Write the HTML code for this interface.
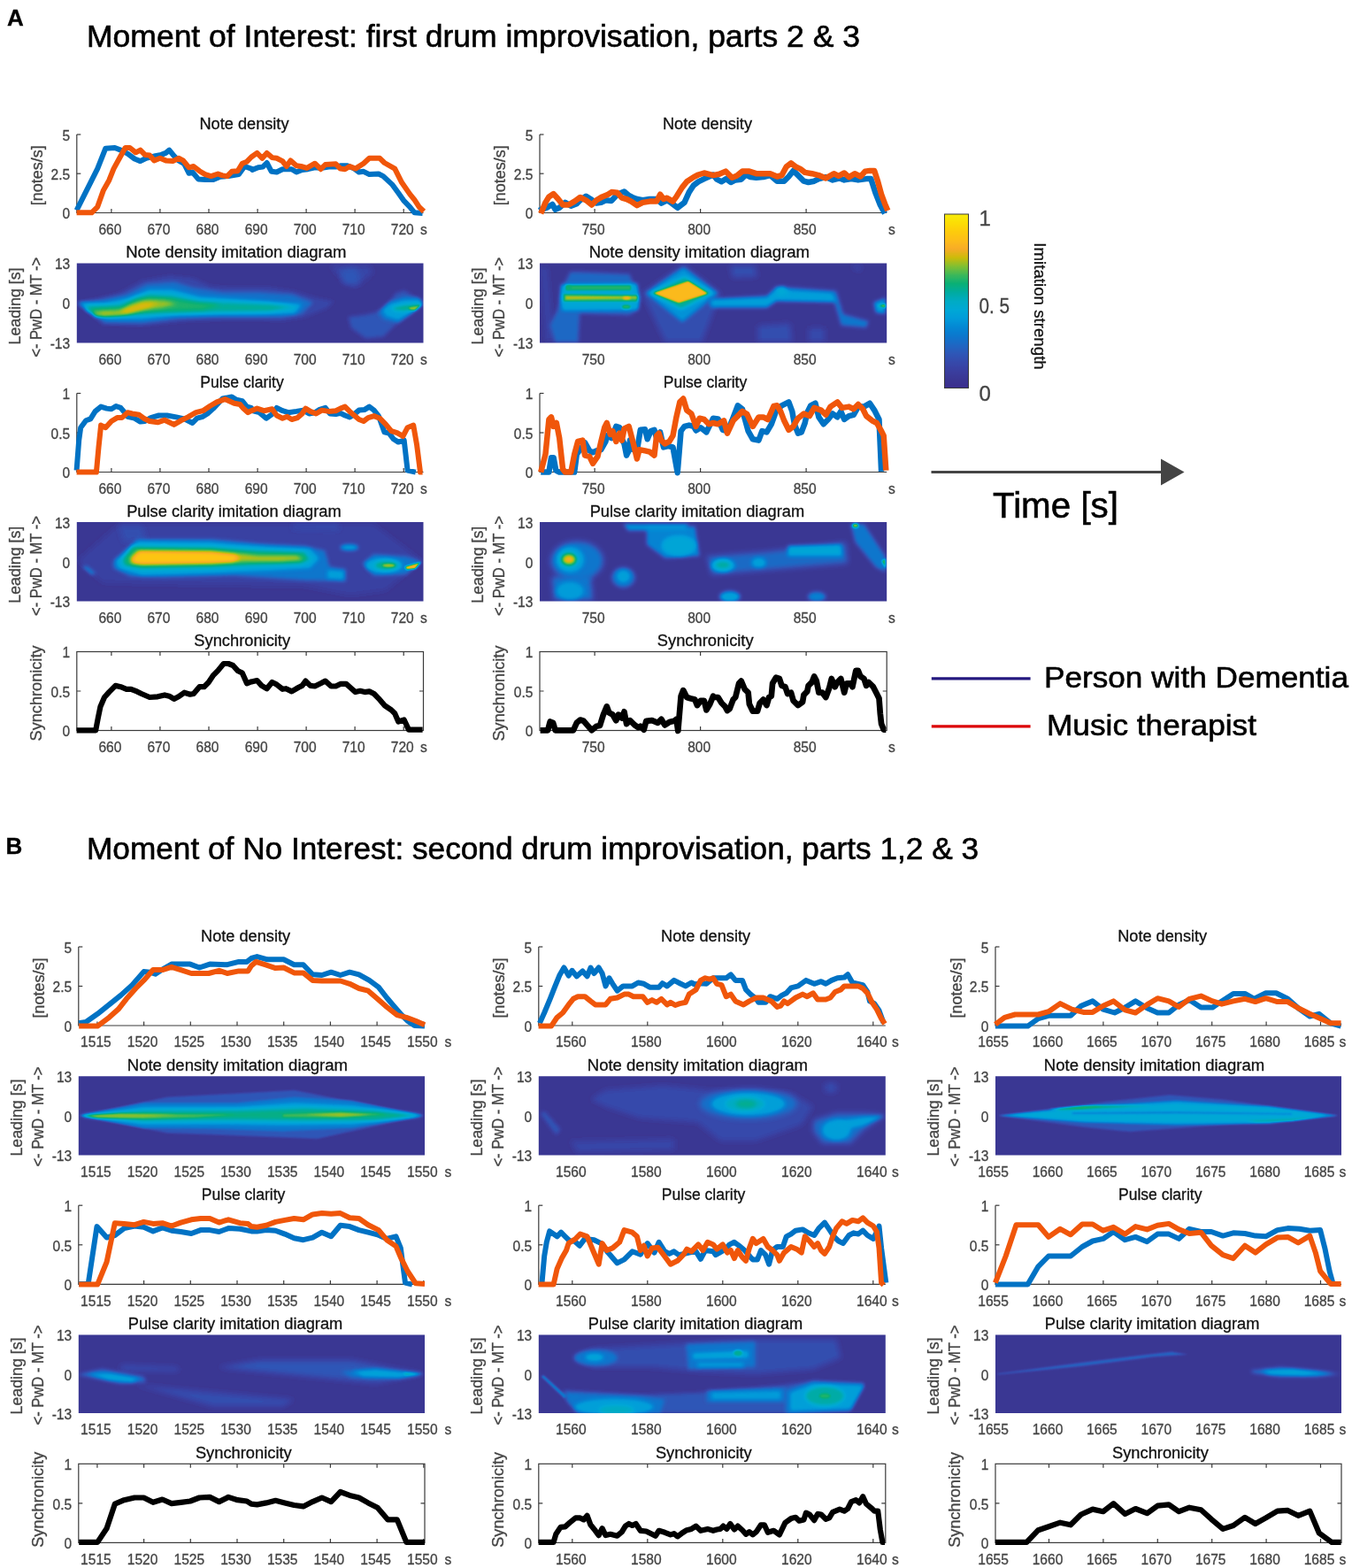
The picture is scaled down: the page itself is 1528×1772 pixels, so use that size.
<!DOCTYPE html>
<html><head><meta charset="utf-8"><title>Figure</title>
<style>html,body{margin:0;padding:0;background:#fff;}svg{display:block;}</style></head>
<body><svg width="1528" height="1772" viewBox="0 0 1528 1772" font-family='"Liberation Sans", Arial, sans-serif'><defs><filter id="pm" x="0" y="0" width="1" height="1" color-interpolation-filters="sRGB"><feComponentTransfer><feFuncR type="table" tableValues="0.2353 0.2314 0.2275 0.2118 0.1804 0.1176 0.0471 0.0157 0.0078 0.0000 0.0000 0.0000 0.0392 0.2353 0.5098 0.8039 0.9725 0.9922 0.9961 0.9882 0.9725"/><feFuncG type="table" tableValues="0.1804 0.2157 0.2471 0.2902 0.3451 0.4078 0.4706 0.5333 0.6118 0.6588 0.6745 0.6745 0.6902 0.7216 0.7529 0.7373 0.6745 0.7451 0.8000 0.8706 0.9255"/><feFuncB type="table" tableValues="0.5569 0.5765 0.6275 0.6745 0.7216 0.7686 0.8078 0.8314 0.8549 0.8392 0.7686 0.6275 0.4627 0.3529 0.1961 0.0392 0.1569 0.0980 0.0471 0.0196 0.0392"/></feComponentTransfer></filter><filter id="b1" x="-50%" y="-50%" width="200%" height="200%"><feGaussianBlur stdDeviation="1"/></filter><filter id="b2" x="-50%" y="-50%" width="200%" height="200%"><feGaussianBlur stdDeviation="2"/></filter><filter id="b3" x="-50%" y="-50%" width="200%" height="200%"><feGaussianBlur stdDeviation="3"/></filter><filter id="b4" x="-50%" y="-50%" width="200%" height="200%"><feGaussianBlur stdDeviation="4"/></filter><filter id="b5" x="-50%" y="-50%" width="200%" height="200%"><feGaussianBlur stdDeviation="5"/></filter><filter id="b6" x="-50%" y="-50%" width="200%" height="200%"><feGaussianBlur stdDeviation="6"/></filter><filter id="b8" x="-50%" y="-50%" width="200%" height="200%"><feGaussianBlur stdDeviation="8"/></filter><clipPath id="hc1"><rect x="86.8" y="297.5" width="391.7" height="90.0"/></clipPath><clipPath id="hc2"><rect x="610.0" y="297.5" width="392.2" height="90.0"/></clipPath><clipPath id="hc3"><rect x="86.8" y="590.0" width="391.7" height="89.5"/></clipPath><clipPath id="hc4"><rect x="610.0" y="590.0" width="392.2" height="89.5"/></clipPath><clipPath id="hc5"><rect x="88.8" y="1216.3" width="391.2" height="89.2"/></clipPath><clipPath id="hc6"><rect x="608.8" y="1216.3" width="392.0" height="89.2"/></clipPath><clipPath id="hc7"><rect x="1125.0" y="1216.3" width="391.0" height="89.2"/></clipPath><clipPath id="hc8"><rect x="88.8" y="1508.6" width="391.2" height="88.4"/></clipPath><clipPath id="hc9"><rect x="608.8" y="1508.6" width="392.0" height="88.4"/></clipPath><clipPath id="hc10"><rect x="1125.0" y="1508.6" width="391.0" height="88.4"/></clipPath><linearGradient id="gg" x1="0" y1="1" x2="0" y2="0"><stop offset="0" stop-color="#000"/><stop offset="1" stop-color="#fff"/></linearGradient></defs><text x="8.0" y="29.0" font-size="26" text-anchor="start" fill="#000" stroke="#000" stroke-width="0.3" font-weight="bold">A</text>
<text x="98.0" y="53.3" font-size="35" text-anchor="start" fill="#000" stroke="#000" stroke-width="0.6" textLength="874.0" lengthAdjust="spacingAndGlyphs">Moment of Interest: first drum improvisation, parts 2 &amp; 3</text>
<text x="6.5" y="964.5" font-size="26" text-anchor="start" fill="#000" stroke="#000" stroke-width="0.3" font-weight="bold">B</text>
<text x="98.0" y="970.8" font-size="35" text-anchor="start" fill="#000" stroke="#000" stroke-width="0.6" textLength="1008.0" lengthAdjust="spacingAndGlyphs">Moment of No Interest: second drum improvisation, parts 1,2 &amp; 3</text>
<text x="276.0" y="145.6" font-size="18" text-anchor="middle" fill="#111" stroke="#111" stroke-width="0.3" textLength="101.0" lengthAdjust="spacingAndGlyphs">Note density</text>
<path d="M86.8 152.0V240.5H478.5" fill="none" stroke="#3a3a3a" stroke-width="1.2"/>
<path d="M125.9 240.5v-4.5" stroke="#3a3a3a" stroke-width="1.2"/>
<path d="M180.9 240.5v-4.5" stroke="#3a3a3a" stroke-width="1.2"/>
<path d="M236.0 240.5v-4.5" stroke="#3a3a3a" stroke-width="1.2"/>
<path d="M291.1 240.5v-4.5" stroke="#3a3a3a" stroke-width="1.2"/>
<path d="M346.1 240.5v-4.5" stroke="#3a3a3a" stroke-width="1.2"/>
<path d="M401.1 240.5v-4.5" stroke="#3a3a3a" stroke-width="1.2"/>
<path d="M456.2 240.5v-4.5" stroke="#3a3a3a" stroke-width="1.2"/>
<path d="M86.8 152.0h4.5" stroke="#3a3a3a" stroke-width="1.2"/>
<path d="M86.8 196.2h4.5" stroke="#3a3a3a" stroke-width="1.2"/>
<text x="79.2" y="158.7" font-size="16.2" text-anchor="end" fill="#444" textLength="8.6" lengthAdjust="spacingAndGlyphs" stroke="#444" stroke-width="0.3">5</text>
<text x="79.2" y="202.9" font-size="16.2" text-anchor="end" fill="#444" textLength="21.6" lengthAdjust="spacingAndGlyphs" stroke="#444" stroke-width="0.3">2.5</text>
<text x="79.2" y="247.2" font-size="16.2" text-anchor="end" fill="#444" textLength="8.6" lengthAdjust="spacingAndGlyphs" stroke="#444" stroke-width="0.3">0</text>
<text x="124.4" y="264.9" font-size="16.2" text-anchor="middle" fill="#444" textLength="25.9" lengthAdjust="spacingAndGlyphs" stroke="#444" stroke-width="0.3">660</text>
<text x="179.4" y="264.9" font-size="16.2" text-anchor="middle" fill="#444" textLength="25.9" lengthAdjust="spacingAndGlyphs" stroke="#444" stroke-width="0.3">670</text>
<text x="234.5" y="264.9" font-size="16.2" text-anchor="middle" fill="#444" textLength="25.9" lengthAdjust="spacingAndGlyphs" stroke="#444" stroke-width="0.3">680</text>
<text x="289.6" y="264.9" font-size="16.2" text-anchor="middle" fill="#444" textLength="25.9" lengthAdjust="spacingAndGlyphs" stroke="#444" stroke-width="0.3">690</text>
<text x="344.6" y="264.9" font-size="16.2" text-anchor="middle" fill="#444" textLength="25.9" lengthAdjust="spacingAndGlyphs" stroke="#444" stroke-width="0.3">700</text>
<text x="399.6" y="264.9" font-size="16.2" text-anchor="middle" fill="#444" textLength="25.9" lengthAdjust="spacingAndGlyphs" stroke="#444" stroke-width="0.3">710</text>
<text x="454.7" y="264.9" font-size="16.2" text-anchor="middle" fill="#444" textLength="25.9" lengthAdjust="spacingAndGlyphs" stroke="#444" stroke-width="0.3">720</text>
<text x="479.0" y="264.9" font-size="16.2" text-anchor="middle" fill="#444" textLength="7.8" lengthAdjust="spacingAndGlyphs" stroke="#444" stroke-width="0.3">s</text>
<text x="48.3" y="198.2" font-size="18" text-anchor="middle" fill="#444" stroke="#444" stroke-width="0.3" textLength="68.0" lengthAdjust="spacingAndGlyphs" transform="rotate(-90 48.3 198.2)">[notes/s]</text>
<text x="266.8" y="291.1" font-size="18" text-anchor="middle" fill="#111" stroke="#111" stroke-width="0.3" textLength="249.3" lengthAdjust="spacingAndGlyphs">Note density imitation diagram</text>
<text x="79.2" y="304.2" font-size="16.2" text-anchor="end" fill="#444" textLength="17.3" lengthAdjust="spacingAndGlyphs" stroke="#444" stroke-width="0.3">13</text>
<text x="79.2" y="349.2" font-size="16.2" text-anchor="end" fill="#444" textLength="8.6" lengthAdjust="spacingAndGlyphs" stroke="#444" stroke-width="0.3">0</text>
<text x="79.2" y="394.2" font-size="16.2" text-anchor="end" fill="#444" textLength="22.5" lengthAdjust="spacingAndGlyphs" stroke="#444" stroke-width="0.3">-13</text>
<text x="124.4" y="411.9" font-size="16.2" text-anchor="middle" fill="#444" textLength="25.9" lengthAdjust="spacingAndGlyphs" stroke="#444" stroke-width="0.3">660</text>
<text x="179.4" y="411.9" font-size="16.2" text-anchor="middle" fill="#444" textLength="25.9" lengthAdjust="spacingAndGlyphs" stroke="#444" stroke-width="0.3">670</text>
<text x="234.5" y="411.9" font-size="16.2" text-anchor="middle" fill="#444" textLength="25.9" lengthAdjust="spacingAndGlyphs" stroke="#444" stroke-width="0.3">680</text>
<text x="289.6" y="411.9" font-size="16.2" text-anchor="middle" fill="#444" textLength="25.9" lengthAdjust="spacingAndGlyphs" stroke="#444" stroke-width="0.3">690</text>
<text x="344.6" y="411.9" font-size="16.2" text-anchor="middle" fill="#444" textLength="25.9" lengthAdjust="spacingAndGlyphs" stroke="#444" stroke-width="0.3">700</text>
<text x="399.6" y="411.9" font-size="16.2" text-anchor="middle" fill="#444" textLength="25.9" lengthAdjust="spacingAndGlyphs" stroke="#444" stroke-width="0.3">710</text>
<text x="454.7" y="411.9" font-size="16.2" text-anchor="middle" fill="#444" textLength="25.9" lengthAdjust="spacingAndGlyphs" stroke="#444" stroke-width="0.3">720</text>
<text x="479.0" y="411.9" font-size="16.2" text-anchor="middle" fill="#444" textLength="7.8" lengthAdjust="spacingAndGlyphs" stroke="#444" stroke-width="0.3">s</text>
<text x="22.8" y="346.0" font-size="18" text-anchor="middle" fill="#444" stroke="#444" stroke-width="0.3" textLength="87.0" lengthAdjust="spacingAndGlyphs" transform="rotate(-90 22.8 346.0)">Leading [s]</text>
<text x="46.8" y="347.3" font-size="18" text-anchor="middle" fill="#444" stroke="#444" stroke-width="0.3" textLength="113.0" lengthAdjust="spacingAndGlyphs" transform="rotate(-90 46.8 347.3)">&lt;- PwD - MT -&gt;</text>
<text x="273.5" y="438.1" font-size="18" text-anchor="middle" fill="#111" stroke="#111" stroke-width="0.3" textLength="94.5" lengthAdjust="spacingAndGlyphs">Pulse clarity</text>
<path d="M86.8 444.5V533.5H478.5" fill="none" stroke="#3a3a3a" stroke-width="1.2"/>
<path d="M125.9 533.5v-4.5" stroke="#3a3a3a" stroke-width="1.2"/>
<path d="M180.9 533.5v-4.5" stroke="#3a3a3a" stroke-width="1.2"/>
<path d="M236.0 533.5v-4.5" stroke="#3a3a3a" stroke-width="1.2"/>
<path d="M291.1 533.5v-4.5" stroke="#3a3a3a" stroke-width="1.2"/>
<path d="M346.1 533.5v-4.5" stroke="#3a3a3a" stroke-width="1.2"/>
<path d="M401.1 533.5v-4.5" stroke="#3a3a3a" stroke-width="1.2"/>
<path d="M456.2 533.5v-4.5" stroke="#3a3a3a" stroke-width="1.2"/>
<path d="M86.8 444.5h4.5" stroke="#3a3a3a" stroke-width="1.2"/>
<path d="M86.8 489.0h4.5" stroke="#3a3a3a" stroke-width="1.2"/>
<text x="79.2" y="451.2" font-size="16.2" text-anchor="end" fill="#444" textLength="8.6" lengthAdjust="spacingAndGlyphs" stroke="#444" stroke-width="0.3">1</text>
<text x="79.2" y="495.7" font-size="16.2" text-anchor="end" fill="#444" textLength="21.6" lengthAdjust="spacingAndGlyphs" stroke="#444" stroke-width="0.3">0.5</text>
<text x="79.2" y="540.2" font-size="16.2" text-anchor="end" fill="#444" textLength="8.6" lengthAdjust="spacingAndGlyphs" stroke="#444" stroke-width="0.3">0</text>
<text x="124.4" y="557.9" font-size="16.2" text-anchor="middle" fill="#444" textLength="25.9" lengthAdjust="spacingAndGlyphs" stroke="#444" stroke-width="0.3">660</text>
<text x="179.4" y="557.9" font-size="16.2" text-anchor="middle" fill="#444" textLength="25.9" lengthAdjust="spacingAndGlyphs" stroke="#444" stroke-width="0.3">670</text>
<text x="234.5" y="557.9" font-size="16.2" text-anchor="middle" fill="#444" textLength="25.9" lengthAdjust="spacingAndGlyphs" stroke="#444" stroke-width="0.3">680</text>
<text x="289.6" y="557.9" font-size="16.2" text-anchor="middle" fill="#444" textLength="25.9" lengthAdjust="spacingAndGlyphs" stroke="#444" stroke-width="0.3">690</text>
<text x="344.6" y="557.9" font-size="16.2" text-anchor="middle" fill="#444" textLength="25.9" lengthAdjust="spacingAndGlyphs" stroke="#444" stroke-width="0.3">700</text>
<text x="399.6" y="557.9" font-size="16.2" text-anchor="middle" fill="#444" textLength="25.9" lengthAdjust="spacingAndGlyphs" stroke="#444" stroke-width="0.3">710</text>
<text x="454.7" y="557.9" font-size="16.2" text-anchor="middle" fill="#444" textLength="25.9" lengthAdjust="spacingAndGlyphs" stroke="#444" stroke-width="0.3">720</text>
<text x="479.0" y="557.9" font-size="16.2" text-anchor="middle" fill="#444" textLength="7.8" lengthAdjust="spacingAndGlyphs" stroke="#444" stroke-width="0.3">s</text>
<text x="264.4" y="583.6" font-size="18" text-anchor="middle" fill="#111" stroke="#111" stroke-width="0.3" textLength="242.5" lengthAdjust="spacingAndGlyphs">Pulse clarity imitation diagram</text>
<text x="79.2" y="596.7" font-size="16.2" text-anchor="end" fill="#444" textLength="17.3" lengthAdjust="spacingAndGlyphs" stroke="#444" stroke-width="0.3">13</text>
<text x="79.2" y="641.5" font-size="16.2" text-anchor="end" fill="#444" textLength="8.6" lengthAdjust="spacingAndGlyphs" stroke="#444" stroke-width="0.3">0</text>
<text x="79.2" y="686.2" font-size="16.2" text-anchor="end" fill="#444" textLength="22.5" lengthAdjust="spacingAndGlyphs" stroke="#444" stroke-width="0.3">-13</text>
<text x="124.4" y="703.9" font-size="16.2" text-anchor="middle" fill="#444" textLength="25.9" lengthAdjust="spacingAndGlyphs" stroke="#444" stroke-width="0.3">660</text>
<text x="179.4" y="703.9" font-size="16.2" text-anchor="middle" fill="#444" textLength="25.9" lengthAdjust="spacingAndGlyphs" stroke="#444" stroke-width="0.3">670</text>
<text x="234.5" y="703.9" font-size="16.2" text-anchor="middle" fill="#444" textLength="25.9" lengthAdjust="spacingAndGlyphs" stroke="#444" stroke-width="0.3">680</text>
<text x="289.6" y="703.9" font-size="16.2" text-anchor="middle" fill="#444" textLength="25.9" lengthAdjust="spacingAndGlyphs" stroke="#444" stroke-width="0.3">690</text>
<text x="344.6" y="703.9" font-size="16.2" text-anchor="middle" fill="#444" textLength="25.9" lengthAdjust="spacingAndGlyphs" stroke="#444" stroke-width="0.3">700</text>
<text x="399.6" y="703.9" font-size="16.2" text-anchor="middle" fill="#444" textLength="25.9" lengthAdjust="spacingAndGlyphs" stroke="#444" stroke-width="0.3">710</text>
<text x="454.7" y="703.9" font-size="16.2" text-anchor="middle" fill="#444" textLength="25.9" lengthAdjust="spacingAndGlyphs" stroke="#444" stroke-width="0.3">720</text>
<text x="479.0" y="703.9" font-size="16.2" text-anchor="middle" fill="#444" textLength="7.8" lengthAdjust="spacingAndGlyphs" stroke="#444" stroke-width="0.3">s</text>
<text x="22.8" y="638.2" font-size="18" text-anchor="middle" fill="#444" stroke="#444" stroke-width="0.3" textLength="87.0" lengthAdjust="spacingAndGlyphs" transform="rotate(-90 22.8 638.2)">Leading [s]</text>
<text x="46.8" y="639.5" font-size="18" text-anchor="middle" fill="#444" stroke="#444" stroke-width="0.3" textLength="113.0" lengthAdjust="spacingAndGlyphs" transform="rotate(-90 46.8 639.5)">&lt;- PwD - MT -&gt;</text>
<text x="273.7" y="730.1" font-size="18" text-anchor="middle" fill="#111" stroke="#111" stroke-width="0.3" textLength="108.8" lengthAdjust="spacingAndGlyphs">Synchronicity</text>
<rect x="86.8" y="736.5" width="391.7" height="89.0" fill="none" stroke="#3a3a3a" stroke-width="1.2"/>
<path d="M125.9 825.5v-4.5M125.9 736.5v4.5" stroke="#3a3a3a" stroke-width="1.2"/>
<path d="M180.9 825.5v-4.5M180.9 736.5v4.5" stroke="#3a3a3a" stroke-width="1.2"/>
<path d="M236.0 825.5v-4.5M236.0 736.5v4.5" stroke="#3a3a3a" stroke-width="1.2"/>
<path d="M291.1 825.5v-4.5M291.1 736.5v4.5" stroke="#3a3a3a" stroke-width="1.2"/>
<path d="M346.1 825.5v-4.5M346.1 736.5v4.5" stroke="#3a3a3a" stroke-width="1.2"/>
<path d="M401.1 825.5v-4.5M401.1 736.5v4.5" stroke="#3a3a3a" stroke-width="1.2"/>
<path d="M456.2 825.5v-4.5M456.2 736.5v4.5" stroke="#3a3a3a" stroke-width="1.2"/>
<path d="M86.8 781.0h4.5M478.5 781.0h-4.5" stroke="#3a3a3a" stroke-width="1.2"/>
<text x="79.2" y="743.2" font-size="16.2" text-anchor="end" fill="#444" textLength="8.6" lengthAdjust="spacingAndGlyphs" stroke="#444" stroke-width="0.3">1</text>
<text x="79.2" y="787.7" font-size="16.2" text-anchor="end" fill="#444" textLength="21.6" lengthAdjust="spacingAndGlyphs" stroke="#444" stroke-width="0.3">0.5</text>
<text x="79.2" y="832.2" font-size="16.2" text-anchor="end" fill="#444" textLength="8.6" lengthAdjust="spacingAndGlyphs" stroke="#444" stroke-width="0.3">0</text>
<text x="124.4" y="849.9" font-size="16.2" text-anchor="middle" fill="#444" textLength="25.9" lengthAdjust="spacingAndGlyphs" stroke="#444" stroke-width="0.3">660</text>
<text x="179.4" y="849.9" font-size="16.2" text-anchor="middle" fill="#444" textLength="25.9" lengthAdjust="spacingAndGlyphs" stroke="#444" stroke-width="0.3">670</text>
<text x="234.5" y="849.9" font-size="16.2" text-anchor="middle" fill="#444" textLength="25.9" lengthAdjust="spacingAndGlyphs" stroke="#444" stroke-width="0.3">680</text>
<text x="289.6" y="849.9" font-size="16.2" text-anchor="middle" fill="#444" textLength="25.9" lengthAdjust="spacingAndGlyphs" stroke="#444" stroke-width="0.3">690</text>
<text x="344.6" y="849.9" font-size="16.2" text-anchor="middle" fill="#444" textLength="25.9" lengthAdjust="spacingAndGlyphs" stroke="#444" stroke-width="0.3">700</text>
<text x="399.6" y="849.9" font-size="16.2" text-anchor="middle" fill="#444" textLength="25.9" lengthAdjust="spacingAndGlyphs" stroke="#444" stroke-width="0.3">710</text>
<text x="454.7" y="849.9" font-size="16.2" text-anchor="middle" fill="#444" textLength="25.9" lengthAdjust="spacingAndGlyphs" stroke="#444" stroke-width="0.3">720</text>
<text x="479.0" y="849.9" font-size="16.2" text-anchor="middle" fill="#444" textLength="7.8" lengthAdjust="spacingAndGlyphs" stroke="#444" stroke-width="0.3">s</text>
<text x="46.8" y="783.5" font-size="18" text-anchor="middle" fill="#444" stroke="#444" stroke-width="0.3" textLength="108.0" lengthAdjust="spacingAndGlyphs" transform="rotate(-90 46.8 783.5)">Synchronicity</text>
<text x="799.5" y="145.6" font-size="18" text-anchor="middle" fill="#111" stroke="#111" stroke-width="0.3" textLength="101.0" lengthAdjust="spacingAndGlyphs">Note density</text>
<path d="M610.0 152.0V240.5H1002.2" fill="none" stroke="#3a3a3a" stroke-width="1.2"/>
<path d="M672.1 240.5v-4.5" stroke="#3a3a3a" stroke-width="1.2"/>
<path d="M791.6 240.5v-4.5" stroke="#3a3a3a" stroke-width="1.2"/>
<path d="M911.1 240.5v-4.5" stroke="#3a3a3a" stroke-width="1.2"/>
<path d="M610.0 152.0h4.5" stroke="#3a3a3a" stroke-width="1.2"/>
<path d="M610.0 196.2h4.5" stroke="#3a3a3a" stroke-width="1.2"/>
<text x="602.4" y="158.7" font-size="16.2" text-anchor="end" fill="#444" textLength="8.6" lengthAdjust="spacingAndGlyphs" stroke="#444" stroke-width="0.3">5</text>
<text x="602.4" y="202.9" font-size="16.2" text-anchor="end" fill="#444" textLength="21.6" lengthAdjust="spacingAndGlyphs" stroke="#444" stroke-width="0.3">2.5</text>
<text x="602.4" y="247.2" font-size="16.2" text-anchor="end" fill="#444" textLength="8.6" lengthAdjust="spacingAndGlyphs" stroke="#444" stroke-width="0.3">0</text>
<text x="670.6" y="264.9" font-size="16.2" text-anchor="middle" fill="#444" textLength="25.9" lengthAdjust="spacingAndGlyphs" stroke="#444" stroke-width="0.3">750</text>
<text x="790.1" y="264.9" font-size="16.2" text-anchor="middle" fill="#444" textLength="25.9" lengthAdjust="spacingAndGlyphs" stroke="#444" stroke-width="0.3">800</text>
<text x="909.6" y="264.9" font-size="16.2" text-anchor="middle" fill="#444" textLength="25.9" lengthAdjust="spacingAndGlyphs" stroke="#444" stroke-width="0.3">850</text>
<text x="1008.0" y="264.9" font-size="16.2" text-anchor="middle" fill="#444" textLength="7.8" lengthAdjust="spacingAndGlyphs" stroke="#444" stroke-width="0.3">s</text>
<text x="571.5" y="198.2" font-size="18" text-anchor="middle" fill="#444" stroke="#444" stroke-width="0.3" textLength="68.0" lengthAdjust="spacingAndGlyphs" transform="rotate(-90 571.5 198.2)">[notes/s]</text>
<text x="790.3" y="291.1" font-size="18" text-anchor="middle" fill="#111" stroke="#111" stroke-width="0.3" textLength="249.3" lengthAdjust="spacingAndGlyphs">Note density imitation diagram</text>
<text x="602.4" y="304.2" font-size="16.2" text-anchor="end" fill="#444" textLength="17.3" lengthAdjust="spacingAndGlyphs" stroke="#444" stroke-width="0.3">13</text>
<text x="602.4" y="349.2" font-size="16.2" text-anchor="end" fill="#444" textLength="8.6" lengthAdjust="spacingAndGlyphs" stroke="#444" stroke-width="0.3">0</text>
<text x="602.4" y="394.2" font-size="16.2" text-anchor="end" fill="#444" textLength="22.5" lengthAdjust="spacingAndGlyphs" stroke="#444" stroke-width="0.3">-13</text>
<text x="670.6" y="411.9" font-size="16.2" text-anchor="middle" fill="#444" textLength="25.9" lengthAdjust="spacingAndGlyphs" stroke="#444" stroke-width="0.3">750</text>
<text x="790.1" y="411.9" font-size="16.2" text-anchor="middle" fill="#444" textLength="25.9" lengthAdjust="spacingAndGlyphs" stroke="#444" stroke-width="0.3">800</text>
<text x="909.6" y="411.9" font-size="16.2" text-anchor="middle" fill="#444" textLength="25.9" lengthAdjust="spacingAndGlyphs" stroke="#444" stroke-width="0.3">850</text>
<text x="1008.0" y="411.9" font-size="16.2" text-anchor="middle" fill="#444" textLength="7.8" lengthAdjust="spacingAndGlyphs" stroke="#444" stroke-width="0.3">s</text>
<text x="546.0" y="346.0" font-size="18" text-anchor="middle" fill="#444" stroke="#444" stroke-width="0.3" textLength="87.0" lengthAdjust="spacingAndGlyphs" transform="rotate(-90 546.0 346.0)">Leading [s]</text>
<text x="570.0" y="347.3" font-size="18" text-anchor="middle" fill="#444" stroke="#444" stroke-width="0.3" textLength="113.0" lengthAdjust="spacingAndGlyphs" transform="rotate(-90 570.0 347.3)">&lt;- PwD - MT -&gt;</text>
<text x="797.0" y="438.1" font-size="18" text-anchor="middle" fill="#111" stroke="#111" stroke-width="0.3" textLength="94.5" lengthAdjust="spacingAndGlyphs">Pulse clarity</text>
<path d="M610.0 444.5V533.5H1002.2" fill="none" stroke="#3a3a3a" stroke-width="1.2"/>
<path d="M672.1 533.5v-4.5" stroke="#3a3a3a" stroke-width="1.2"/>
<path d="M791.6 533.5v-4.5" stroke="#3a3a3a" stroke-width="1.2"/>
<path d="M911.1 533.5v-4.5" stroke="#3a3a3a" stroke-width="1.2"/>
<path d="M610.0 444.5h4.5" stroke="#3a3a3a" stroke-width="1.2"/>
<path d="M610.0 489.0h4.5" stroke="#3a3a3a" stroke-width="1.2"/>
<text x="602.4" y="451.2" font-size="16.2" text-anchor="end" fill="#444" textLength="8.6" lengthAdjust="spacingAndGlyphs" stroke="#444" stroke-width="0.3">1</text>
<text x="602.4" y="495.7" font-size="16.2" text-anchor="end" fill="#444" textLength="21.6" lengthAdjust="spacingAndGlyphs" stroke="#444" stroke-width="0.3">0.5</text>
<text x="602.4" y="540.2" font-size="16.2" text-anchor="end" fill="#444" textLength="8.6" lengthAdjust="spacingAndGlyphs" stroke="#444" stroke-width="0.3">0</text>
<text x="670.6" y="557.9" font-size="16.2" text-anchor="middle" fill="#444" textLength="25.9" lengthAdjust="spacingAndGlyphs" stroke="#444" stroke-width="0.3">750</text>
<text x="790.1" y="557.9" font-size="16.2" text-anchor="middle" fill="#444" textLength="25.9" lengthAdjust="spacingAndGlyphs" stroke="#444" stroke-width="0.3">800</text>
<text x="909.6" y="557.9" font-size="16.2" text-anchor="middle" fill="#444" textLength="25.9" lengthAdjust="spacingAndGlyphs" stroke="#444" stroke-width="0.3">850</text>
<text x="1008.0" y="557.9" font-size="16.2" text-anchor="middle" fill="#444" textLength="7.8" lengthAdjust="spacingAndGlyphs" stroke="#444" stroke-width="0.3">s</text>
<text x="787.9" y="583.6" font-size="18" text-anchor="middle" fill="#111" stroke="#111" stroke-width="0.3" textLength="242.5" lengthAdjust="spacingAndGlyphs">Pulse clarity imitation diagram</text>
<text x="602.4" y="596.7" font-size="16.2" text-anchor="end" fill="#444" textLength="17.3" lengthAdjust="spacingAndGlyphs" stroke="#444" stroke-width="0.3">13</text>
<text x="602.4" y="641.5" font-size="16.2" text-anchor="end" fill="#444" textLength="8.6" lengthAdjust="spacingAndGlyphs" stroke="#444" stroke-width="0.3">0</text>
<text x="602.4" y="686.2" font-size="16.2" text-anchor="end" fill="#444" textLength="22.5" lengthAdjust="spacingAndGlyphs" stroke="#444" stroke-width="0.3">-13</text>
<text x="670.6" y="703.9" font-size="16.2" text-anchor="middle" fill="#444" textLength="25.9" lengthAdjust="spacingAndGlyphs" stroke="#444" stroke-width="0.3">750</text>
<text x="790.1" y="703.9" font-size="16.2" text-anchor="middle" fill="#444" textLength="25.9" lengthAdjust="spacingAndGlyphs" stroke="#444" stroke-width="0.3">800</text>
<text x="909.6" y="703.9" font-size="16.2" text-anchor="middle" fill="#444" textLength="25.9" lengthAdjust="spacingAndGlyphs" stroke="#444" stroke-width="0.3">850</text>
<text x="1008.0" y="703.9" font-size="16.2" text-anchor="middle" fill="#444" textLength="7.8" lengthAdjust="spacingAndGlyphs" stroke="#444" stroke-width="0.3">s</text>
<text x="546.0" y="638.2" font-size="18" text-anchor="middle" fill="#444" stroke="#444" stroke-width="0.3" textLength="87.0" lengthAdjust="spacingAndGlyphs" transform="rotate(-90 546.0 638.2)">Leading [s]</text>
<text x="570.0" y="639.5" font-size="18" text-anchor="middle" fill="#444" stroke="#444" stroke-width="0.3" textLength="113.0" lengthAdjust="spacingAndGlyphs" transform="rotate(-90 570.0 639.5)">&lt;- PwD - MT -&gt;</text>
<text x="797.2" y="730.1" font-size="18" text-anchor="middle" fill="#111" stroke="#111" stroke-width="0.3" textLength="108.8" lengthAdjust="spacingAndGlyphs">Synchronicity</text>
<rect x="610.0" y="736.5" width="392.2" height="89.0" fill="none" stroke="#3a3a3a" stroke-width="1.2"/>
<path d="M672.1 825.5v-4.5M672.1 736.5v4.5" stroke="#3a3a3a" stroke-width="1.2"/>
<path d="M791.6 825.5v-4.5M791.6 736.5v4.5" stroke="#3a3a3a" stroke-width="1.2"/>
<path d="M911.1 825.5v-4.5M911.1 736.5v4.5" stroke="#3a3a3a" stroke-width="1.2"/>
<path d="M610.0 781.0h4.5M1002.2 781.0h-4.5" stroke="#3a3a3a" stroke-width="1.2"/>
<text x="602.4" y="743.2" font-size="16.2" text-anchor="end" fill="#444" textLength="8.6" lengthAdjust="spacingAndGlyphs" stroke="#444" stroke-width="0.3">1</text>
<text x="602.4" y="787.7" font-size="16.2" text-anchor="end" fill="#444" textLength="21.6" lengthAdjust="spacingAndGlyphs" stroke="#444" stroke-width="0.3">0.5</text>
<text x="602.4" y="832.2" font-size="16.2" text-anchor="end" fill="#444" textLength="8.6" lengthAdjust="spacingAndGlyphs" stroke="#444" stroke-width="0.3">0</text>
<text x="670.6" y="849.9" font-size="16.2" text-anchor="middle" fill="#444" textLength="25.9" lengthAdjust="spacingAndGlyphs" stroke="#444" stroke-width="0.3">750</text>
<text x="790.1" y="849.9" font-size="16.2" text-anchor="middle" fill="#444" textLength="25.9" lengthAdjust="spacingAndGlyphs" stroke="#444" stroke-width="0.3">800</text>
<text x="909.6" y="849.9" font-size="16.2" text-anchor="middle" fill="#444" textLength="25.9" lengthAdjust="spacingAndGlyphs" stroke="#444" stroke-width="0.3">850</text>
<text x="1008.0" y="849.9" font-size="16.2" text-anchor="middle" fill="#444" textLength="7.8" lengthAdjust="spacingAndGlyphs" stroke="#444" stroke-width="0.3">s</text>
<text x="570.0" y="783.5" font-size="18" text-anchor="middle" fill="#444" stroke="#444" stroke-width="0.3" textLength="108.0" lengthAdjust="spacingAndGlyphs" transform="rotate(-90 570.0 783.5)">Synchronicity</text>
<text x="277.6" y="1063.6" font-size="18" text-anchor="middle" fill="#111" stroke="#111" stroke-width="0.3" textLength="101.0" lengthAdjust="spacingAndGlyphs">Note density</text>
<path d="M88.8 1070.0V1159.0H480.0" fill="none" stroke="#3a3a3a" stroke-width="1.2"/>
<path d="M109.9 1159.0v-4.5" stroke="#3a3a3a" stroke-width="1.2"/>
<path d="M162.6 1159.0v-4.5" stroke="#3a3a3a" stroke-width="1.2"/>
<path d="M215.3 1159.0v-4.5" stroke="#3a3a3a" stroke-width="1.2"/>
<path d="M268.0 1159.0v-4.5" stroke="#3a3a3a" stroke-width="1.2"/>
<path d="M320.7 1159.0v-4.5" stroke="#3a3a3a" stroke-width="1.2"/>
<path d="M373.4 1159.0v-4.5" stroke="#3a3a3a" stroke-width="1.2"/>
<path d="M426.1 1159.0v-4.5" stroke="#3a3a3a" stroke-width="1.2"/>
<path d="M478.8 1159.0v-4.5" stroke="#3a3a3a" stroke-width="1.2"/>
<path d="M88.8 1070.0h4.5" stroke="#3a3a3a" stroke-width="1.2"/>
<path d="M88.8 1114.5h4.5" stroke="#3a3a3a" stroke-width="1.2"/>
<text x="81.2" y="1076.7" font-size="16.2" text-anchor="end" fill="#444" textLength="8.6" lengthAdjust="spacingAndGlyphs" stroke="#444" stroke-width="0.3">5</text>
<text x="81.2" y="1121.2" font-size="16.2" text-anchor="end" fill="#444" textLength="21.6" lengthAdjust="spacingAndGlyphs" stroke="#444" stroke-width="0.3">2.5</text>
<text x="81.2" y="1165.7" font-size="16.2" text-anchor="end" fill="#444" textLength="8.6" lengthAdjust="spacingAndGlyphs" stroke="#444" stroke-width="0.3">0</text>
<text x="108.4" y="1183.4" font-size="16.2" text-anchor="middle" fill="#444" textLength="34.6" lengthAdjust="spacingAndGlyphs" stroke="#444" stroke-width="0.3">1515</text>
<text x="161.1" y="1183.4" font-size="16.2" text-anchor="middle" fill="#444" textLength="34.6" lengthAdjust="spacingAndGlyphs" stroke="#444" stroke-width="0.3">1520</text>
<text x="213.8" y="1183.4" font-size="16.2" text-anchor="middle" fill="#444" textLength="34.6" lengthAdjust="spacingAndGlyphs" stroke="#444" stroke-width="0.3">1525</text>
<text x="266.5" y="1183.4" font-size="16.2" text-anchor="middle" fill="#444" textLength="34.6" lengthAdjust="spacingAndGlyphs" stroke="#444" stroke-width="0.3">1530</text>
<text x="319.2" y="1183.4" font-size="16.2" text-anchor="middle" fill="#444" textLength="34.6" lengthAdjust="spacingAndGlyphs" stroke="#444" stroke-width="0.3">1535</text>
<text x="371.9" y="1183.4" font-size="16.2" text-anchor="middle" fill="#444" textLength="34.6" lengthAdjust="spacingAndGlyphs" stroke="#444" stroke-width="0.3">1540</text>
<text x="424.6" y="1183.4" font-size="16.2" text-anchor="middle" fill="#444" textLength="34.6" lengthAdjust="spacingAndGlyphs" stroke="#444" stroke-width="0.3">1545</text>
<text x="477.3" y="1183.4" font-size="16.2" text-anchor="middle" fill="#444" textLength="34.6" lengthAdjust="spacingAndGlyphs" stroke="#444" stroke-width="0.3">1550</text>
<text x="506.5" y="1183.4" font-size="16.2" text-anchor="middle" fill="#444" textLength="7.8" lengthAdjust="spacingAndGlyphs" stroke="#444" stroke-width="0.3">s</text>
<text x="50.3" y="1116.5" font-size="18" text-anchor="middle" fill="#444" stroke="#444" stroke-width="0.3" textLength="68.0" lengthAdjust="spacingAndGlyphs" transform="rotate(-90 50.3 1116.5)">[notes/s]</text>
<text x="268.4" y="1209.9" font-size="18" text-anchor="middle" fill="#111" stroke="#111" stroke-width="0.3" textLength="249.3" lengthAdjust="spacingAndGlyphs">Note density imitation diagram</text>
<text x="81.2" y="1223.0" font-size="16.2" text-anchor="end" fill="#444" textLength="17.3" lengthAdjust="spacingAndGlyphs" stroke="#444" stroke-width="0.3">13</text>
<text x="81.2" y="1267.6" font-size="16.2" text-anchor="end" fill="#444" textLength="8.6" lengthAdjust="spacingAndGlyphs" stroke="#444" stroke-width="0.3">0</text>
<text x="81.2" y="1312.2" font-size="16.2" text-anchor="end" fill="#444" textLength="22.5" lengthAdjust="spacingAndGlyphs" stroke="#444" stroke-width="0.3">-13</text>
<text x="108.4" y="1329.9" font-size="16.2" text-anchor="middle" fill="#444" textLength="34.6" lengthAdjust="spacingAndGlyphs" stroke="#444" stroke-width="0.3">1515</text>
<text x="161.1" y="1329.9" font-size="16.2" text-anchor="middle" fill="#444" textLength="34.6" lengthAdjust="spacingAndGlyphs" stroke="#444" stroke-width="0.3">1520</text>
<text x="213.8" y="1329.9" font-size="16.2" text-anchor="middle" fill="#444" textLength="34.6" lengthAdjust="spacingAndGlyphs" stroke="#444" stroke-width="0.3">1525</text>
<text x="266.5" y="1329.9" font-size="16.2" text-anchor="middle" fill="#444" textLength="34.6" lengthAdjust="spacingAndGlyphs" stroke="#444" stroke-width="0.3">1530</text>
<text x="319.2" y="1329.9" font-size="16.2" text-anchor="middle" fill="#444" textLength="34.6" lengthAdjust="spacingAndGlyphs" stroke="#444" stroke-width="0.3">1535</text>
<text x="371.9" y="1329.9" font-size="16.2" text-anchor="middle" fill="#444" textLength="34.6" lengthAdjust="spacingAndGlyphs" stroke="#444" stroke-width="0.3">1540</text>
<text x="424.6" y="1329.9" font-size="16.2" text-anchor="middle" fill="#444" textLength="34.6" lengthAdjust="spacingAndGlyphs" stroke="#444" stroke-width="0.3">1545</text>
<text x="477.3" y="1329.9" font-size="16.2" text-anchor="middle" fill="#444" textLength="34.6" lengthAdjust="spacingAndGlyphs" stroke="#444" stroke-width="0.3">1550</text>
<text x="506.5" y="1329.9" font-size="16.2" text-anchor="middle" fill="#444" textLength="7.8" lengthAdjust="spacingAndGlyphs" stroke="#444" stroke-width="0.3">s</text>
<text x="24.8" y="1263.1" font-size="18" text-anchor="middle" fill="#444" stroke="#444" stroke-width="0.3" textLength="87.0" lengthAdjust="spacingAndGlyphs" transform="rotate(-90 24.8 1263.1)">Leading [s]</text>
<text x="48.8" y="1262.1" font-size="18" text-anchor="middle" fill="#444" stroke="#444" stroke-width="0.3" textLength="113.0" lengthAdjust="spacingAndGlyphs" transform="rotate(-90 48.8 1262.1)">&lt;- PwD - MT -&gt;</text>
<text x="275.1" y="1355.8" font-size="18" text-anchor="middle" fill="#111" stroke="#111" stroke-width="0.3" textLength="94.5" lengthAdjust="spacingAndGlyphs">Pulse clarity</text>
<path d="M88.8 1362.2V1451.4H480.0" fill="none" stroke="#3a3a3a" stroke-width="1.2"/>
<path d="M109.9 1451.4v-4.5" stroke="#3a3a3a" stroke-width="1.2"/>
<path d="M162.6 1451.4v-4.5" stroke="#3a3a3a" stroke-width="1.2"/>
<path d="M215.3 1451.4v-4.5" stroke="#3a3a3a" stroke-width="1.2"/>
<path d="M268.0 1451.4v-4.5" stroke="#3a3a3a" stroke-width="1.2"/>
<path d="M320.7 1451.4v-4.5" stroke="#3a3a3a" stroke-width="1.2"/>
<path d="M373.4 1451.4v-4.5" stroke="#3a3a3a" stroke-width="1.2"/>
<path d="M426.1 1451.4v-4.5" stroke="#3a3a3a" stroke-width="1.2"/>
<path d="M478.8 1451.4v-4.5" stroke="#3a3a3a" stroke-width="1.2"/>
<path d="M88.8 1362.2h4.5" stroke="#3a3a3a" stroke-width="1.2"/>
<path d="M88.8 1406.8h4.5" stroke="#3a3a3a" stroke-width="1.2"/>
<text x="81.2" y="1368.9" font-size="16.2" text-anchor="end" fill="#444" textLength="8.6" lengthAdjust="spacingAndGlyphs" stroke="#444" stroke-width="0.3">1</text>
<text x="81.2" y="1413.5" font-size="16.2" text-anchor="end" fill="#444" textLength="21.6" lengthAdjust="spacingAndGlyphs" stroke="#444" stroke-width="0.3">0.5</text>
<text x="81.2" y="1458.1" font-size="16.2" text-anchor="end" fill="#444" textLength="8.6" lengthAdjust="spacingAndGlyphs" stroke="#444" stroke-width="0.3">0</text>
<text x="108.4" y="1475.8" font-size="16.2" text-anchor="middle" fill="#444" textLength="34.6" lengthAdjust="spacingAndGlyphs" stroke="#444" stroke-width="0.3">1515</text>
<text x="161.1" y="1475.8" font-size="16.2" text-anchor="middle" fill="#444" textLength="34.6" lengthAdjust="spacingAndGlyphs" stroke="#444" stroke-width="0.3">1520</text>
<text x="213.8" y="1475.8" font-size="16.2" text-anchor="middle" fill="#444" textLength="34.6" lengthAdjust="spacingAndGlyphs" stroke="#444" stroke-width="0.3">1525</text>
<text x="266.5" y="1475.8" font-size="16.2" text-anchor="middle" fill="#444" textLength="34.6" lengthAdjust="spacingAndGlyphs" stroke="#444" stroke-width="0.3">1530</text>
<text x="319.2" y="1475.8" font-size="16.2" text-anchor="middle" fill="#444" textLength="34.6" lengthAdjust="spacingAndGlyphs" stroke="#444" stroke-width="0.3">1535</text>
<text x="371.9" y="1475.8" font-size="16.2" text-anchor="middle" fill="#444" textLength="34.6" lengthAdjust="spacingAndGlyphs" stroke="#444" stroke-width="0.3">1540</text>
<text x="424.6" y="1475.8" font-size="16.2" text-anchor="middle" fill="#444" textLength="34.6" lengthAdjust="spacingAndGlyphs" stroke="#444" stroke-width="0.3">1545</text>
<text x="477.3" y="1475.8" font-size="16.2" text-anchor="middle" fill="#444" textLength="34.6" lengthAdjust="spacingAndGlyphs" stroke="#444" stroke-width="0.3">1550</text>
<text x="506.5" y="1475.8" font-size="16.2" text-anchor="middle" fill="#444" textLength="7.8" lengthAdjust="spacingAndGlyphs" stroke="#444" stroke-width="0.3">s</text>
<text x="266.0" y="1502.2" font-size="18" text-anchor="middle" fill="#111" stroke="#111" stroke-width="0.3" textLength="242.5" lengthAdjust="spacingAndGlyphs">Pulse clarity imitation diagram</text>
<text x="81.2" y="1515.3" font-size="16.2" text-anchor="end" fill="#444" textLength="17.3" lengthAdjust="spacingAndGlyphs" stroke="#444" stroke-width="0.3">13</text>
<text x="81.2" y="1559.5" font-size="16.2" text-anchor="end" fill="#444" textLength="8.6" lengthAdjust="spacingAndGlyphs" stroke="#444" stroke-width="0.3">0</text>
<text x="81.2" y="1603.7" font-size="16.2" text-anchor="end" fill="#444" textLength="22.5" lengthAdjust="spacingAndGlyphs" stroke="#444" stroke-width="0.3">-13</text>
<text x="108.4" y="1621.4" font-size="16.2" text-anchor="middle" fill="#444" textLength="34.6" lengthAdjust="spacingAndGlyphs" stroke="#444" stroke-width="0.3">1515</text>
<text x="161.1" y="1621.4" font-size="16.2" text-anchor="middle" fill="#444" textLength="34.6" lengthAdjust="spacingAndGlyphs" stroke="#444" stroke-width="0.3">1520</text>
<text x="213.8" y="1621.4" font-size="16.2" text-anchor="middle" fill="#444" textLength="34.6" lengthAdjust="spacingAndGlyphs" stroke="#444" stroke-width="0.3">1525</text>
<text x="266.5" y="1621.4" font-size="16.2" text-anchor="middle" fill="#444" textLength="34.6" lengthAdjust="spacingAndGlyphs" stroke="#444" stroke-width="0.3">1530</text>
<text x="319.2" y="1621.4" font-size="16.2" text-anchor="middle" fill="#444" textLength="34.6" lengthAdjust="spacingAndGlyphs" stroke="#444" stroke-width="0.3">1535</text>
<text x="371.9" y="1621.4" font-size="16.2" text-anchor="middle" fill="#444" textLength="34.6" lengthAdjust="spacingAndGlyphs" stroke="#444" stroke-width="0.3">1540</text>
<text x="424.6" y="1621.4" font-size="16.2" text-anchor="middle" fill="#444" textLength="34.6" lengthAdjust="spacingAndGlyphs" stroke="#444" stroke-width="0.3">1545</text>
<text x="477.3" y="1621.4" font-size="16.2" text-anchor="middle" fill="#444" textLength="34.6" lengthAdjust="spacingAndGlyphs" stroke="#444" stroke-width="0.3">1550</text>
<text x="506.5" y="1621.4" font-size="16.2" text-anchor="middle" fill="#444" textLength="7.8" lengthAdjust="spacingAndGlyphs" stroke="#444" stroke-width="0.3">s</text>
<text x="24.8" y="1555.0" font-size="18" text-anchor="middle" fill="#444" stroke="#444" stroke-width="0.3" textLength="87.0" lengthAdjust="spacingAndGlyphs" transform="rotate(-90 24.8 1555.0)">Leading [s]</text>
<text x="48.8" y="1554.0" font-size="18" text-anchor="middle" fill="#444" stroke="#444" stroke-width="0.3" textLength="113.0" lengthAdjust="spacingAndGlyphs" transform="rotate(-90 48.8 1554.0)">&lt;- PwD - MT -&gt;</text>
<text x="275.3" y="1647.9" font-size="18" text-anchor="middle" fill="#111" stroke="#111" stroke-width="0.3" textLength="108.8" lengthAdjust="spacingAndGlyphs">Synchronicity</text>
<rect x="88.8" y="1654.3" width="391.2" height="89.1" fill="none" stroke="#3a3a3a" stroke-width="1.2"/>
<path d="M109.9 1743.4v-4.5M109.9 1654.3v4.5" stroke="#3a3a3a" stroke-width="1.2"/>
<path d="M162.6 1743.4v-4.5M162.6 1654.3v4.5" stroke="#3a3a3a" stroke-width="1.2"/>
<path d="M215.3 1743.4v-4.5M215.3 1654.3v4.5" stroke="#3a3a3a" stroke-width="1.2"/>
<path d="M268.0 1743.4v-4.5M268.0 1654.3v4.5" stroke="#3a3a3a" stroke-width="1.2"/>
<path d="M320.7 1743.4v-4.5M320.7 1654.3v4.5" stroke="#3a3a3a" stroke-width="1.2"/>
<path d="M373.4 1743.4v-4.5M373.4 1654.3v4.5" stroke="#3a3a3a" stroke-width="1.2"/>
<path d="M426.1 1743.4v-4.5M426.1 1654.3v4.5" stroke="#3a3a3a" stroke-width="1.2"/>
<path d="M478.8 1743.4v-4.5M478.8 1654.3v4.5" stroke="#3a3a3a" stroke-width="1.2"/>
<path d="M88.8 1698.8h4.5M480.0 1698.8h-4.5" stroke="#3a3a3a" stroke-width="1.2"/>
<text x="81.2" y="1661.0" font-size="16.2" text-anchor="end" fill="#444" textLength="8.6" lengthAdjust="spacingAndGlyphs" stroke="#444" stroke-width="0.3">1</text>
<text x="81.2" y="1705.5" font-size="16.2" text-anchor="end" fill="#444" textLength="21.6" lengthAdjust="spacingAndGlyphs" stroke="#444" stroke-width="0.3">0.5</text>
<text x="81.2" y="1750.1" font-size="16.2" text-anchor="end" fill="#444" textLength="8.6" lengthAdjust="spacingAndGlyphs" stroke="#444" stroke-width="0.3">0</text>
<text x="108.4" y="1767.8" font-size="16.2" text-anchor="middle" fill="#444" textLength="34.6" lengthAdjust="spacingAndGlyphs" stroke="#444" stroke-width="0.3">1515</text>
<text x="161.1" y="1767.8" font-size="16.2" text-anchor="middle" fill="#444" textLength="34.6" lengthAdjust="spacingAndGlyphs" stroke="#444" stroke-width="0.3">1520</text>
<text x="213.8" y="1767.8" font-size="16.2" text-anchor="middle" fill="#444" textLength="34.6" lengthAdjust="spacingAndGlyphs" stroke="#444" stroke-width="0.3">1525</text>
<text x="266.5" y="1767.8" font-size="16.2" text-anchor="middle" fill="#444" textLength="34.6" lengthAdjust="spacingAndGlyphs" stroke="#444" stroke-width="0.3">1530</text>
<text x="319.2" y="1767.8" font-size="16.2" text-anchor="middle" fill="#444" textLength="34.6" lengthAdjust="spacingAndGlyphs" stroke="#444" stroke-width="0.3">1535</text>
<text x="371.9" y="1767.8" font-size="16.2" text-anchor="middle" fill="#444" textLength="34.6" lengthAdjust="spacingAndGlyphs" stroke="#444" stroke-width="0.3">1540</text>
<text x="424.6" y="1767.8" font-size="16.2" text-anchor="middle" fill="#444" textLength="34.6" lengthAdjust="spacingAndGlyphs" stroke="#444" stroke-width="0.3">1545</text>
<text x="477.3" y="1767.8" font-size="16.2" text-anchor="middle" fill="#444" textLength="34.6" lengthAdjust="spacingAndGlyphs" stroke="#444" stroke-width="0.3">1550</text>
<text x="506.5" y="1767.8" font-size="16.2" text-anchor="middle" fill="#444" textLength="7.8" lengthAdjust="spacingAndGlyphs" stroke="#444" stroke-width="0.3">s</text>
<text x="48.8" y="1694.8" font-size="18" text-anchor="middle" fill="#444" stroke="#444" stroke-width="0.3" textLength="108.0" lengthAdjust="spacingAndGlyphs" transform="rotate(-90 48.8 1694.8)">Synchronicity</text>
<text x="797.6" y="1063.6" font-size="18" text-anchor="middle" fill="#111" stroke="#111" stroke-width="0.3" textLength="101.0" lengthAdjust="spacingAndGlyphs">Note density</text>
<path d="M608.8 1070.0V1159.0H1000.8" fill="none" stroke="#3a3a3a" stroke-width="1.2"/>
<path d="M646.8 1159.0v-4.5" stroke="#3a3a3a" stroke-width="1.2"/>
<path d="M731.8 1159.0v-4.5" stroke="#3a3a3a" stroke-width="1.2"/>
<path d="M816.8 1159.0v-4.5" stroke="#3a3a3a" stroke-width="1.2"/>
<path d="M901.8 1159.0v-4.5" stroke="#3a3a3a" stroke-width="1.2"/>
<path d="M986.8 1159.0v-4.5" stroke="#3a3a3a" stroke-width="1.2"/>
<path d="M608.8 1070.0h4.5" stroke="#3a3a3a" stroke-width="1.2"/>
<path d="M608.8 1114.5h4.5" stroke="#3a3a3a" stroke-width="1.2"/>
<text x="601.2" y="1076.7" font-size="16.2" text-anchor="end" fill="#444" textLength="8.6" lengthAdjust="spacingAndGlyphs" stroke="#444" stroke-width="0.3">5</text>
<text x="601.2" y="1121.2" font-size="16.2" text-anchor="end" fill="#444" textLength="21.6" lengthAdjust="spacingAndGlyphs" stroke="#444" stroke-width="0.3">2.5</text>
<text x="601.2" y="1165.7" font-size="16.2" text-anchor="end" fill="#444" textLength="8.6" lengthAdjust="spacingAndGlyphs" stroke="#444" stroke-width="0.3">0</text>
<text x="645.3" y="1183.4" font-size="16.2" text-anchor="middle" fill="#444" textLength="34.6" lengthAdjust="spacingAndGlyphs" stroke="#444" stroke-width="0.3">1560</text>
<text x="730.3" y="1183.4" font-size="16.2" text-anchor="middle" fill="#444" textLength="34.6" lengthAdjust="spacingAndGlyphs" stroke="#444" stroke-width="0.3">1580</text>
<text x="815.3" y="1183.4" font-size="16.2" text-anchor="middle" fill="#444" textLength="34.6" lengthAdjust="spacingAndGlyphs" stroke="#444" stroke-width="0.3">1600</text>
<text x="900.3" y="1183.4" font-size="16.2" text-anchor="middle" fill="#444" textLength="34.6" lengthAdjust="spacingAndGlyphs" stroke="#444" stroke-width="0.3">1620</text>
<text x="985.3" y="1183.4" font-size="16.2" text-anchor="middle" fill="#444" textLength="34.6" lengthAdjust="spacingAndGlyphs" stroke="#444" stroke-width="0.3">1640</text>
<text x="1011.8" y="1183.4" font-size="16.2" text-anchor="middle" fill="#444" textLength="7.8" lengthAdjust="spacingAndGlyphs" stroke="#444" stroke-width="0.3">s</text>
<text x="570.3" y="1116.5" font-size="18" text-anchor="middle" fill="#444" stroke="#444" stroke-width="0.3" textLength="68.0" lengthAdjust="spacingAndGlyphs" transform="rotate(-90 570.3 1116.5)">[notes/s]</text>
<text x="788.4" y="1209.9" font-size="18" text-anchor="middle" fill="#111" stroke="#111" stroke-width="0.3" textLength="249.3" lengthAdjust="spacingAndGlyphs">Note density imitation diagram</text>
<text x="601.2" y="1223.0" font-size="16.2" text-anchor="end" fill="#444" textLength="17.3" lengthAdjust="spacingAndGlyphs" stroke="#444" stroke-width="0.3">13</text>
<text x="601.2" y="1267.6" font-size="16.2" text-anchor="end" fill="#444" textLength="8.6" lengthAdjust="spacingAndGlyphs" stroke="#444" stroke-width="0.3">0</text>
<text x="601.2" y="1312.2" font-size="16.2" text-anchor="end" fill="#444" textLength="22.5" lengthAdjust="spacingAndGlyphs" stroke="#444" stroke-width="0.3">-13</text>
<text x="645.3" y="1329.9" font-size="16.2" text-anchor="middle" fill="#444" textLength="34.6" lengthAdjust="spacingAndGlyphs" stroke="#444" stroke-width="0.3">1560</text>
<text x="730.3" y="1329.9" font-size="16.2" text-anchor="middle" fill="#444" textLength="34.6" lengthAdjust="spacingAndGlyphs" stroke="#444" stroke-width="0.3">1580</text>
<text x="815.3" y="1329.9" font-size="16.2" text-anchor="middle" fill="#444" textLength="34.6" lengthAdjust="spacingAndGlyphs" stroke="#444" stroke-width="0.3">1600</text>
<text x="900.3" y="1329.9" font-size="16.2" text-anchor="middle" fill="#444" textLength="34.6" lengthAdjust="spacingAndGlyphs" stroke="#444" stroke-width="0.3">1620</text>
<text x="985.3" y="1329.9" font-size="16.2" text-anchor="middle" fill="#444" textLength="34.6" lengthAdjust="spacingAndGlyphs" stroke="#444" stroke-width="0.3">1640</text>
<text x="1011.8" y="1329.9" font-size="16.2" text-anchor="middle" fill="#444" textLength="7.8" lengthAdjust="spacingAndGlyphs" stroke="#444" stroke-width="0.3">s</text>
<text x="544.8" y="1263.1" font-size="18" text-anchor="middle" fill="#444" stroke="#444" stroke-width="0.3" textLength="87.0" lengthAdjust="spacingAndGlyphs" transform="rotate(-90 544.8 1263.1)">Leading [s]</text>
<text x="568.8" y="1262.1" font-size="18" text-anchor="middle" fill="#444" stroke="#444" stroke-width="0.3" textLength="113.0" lengthAdjust="spacingAndGlyphs" transform="rotate(-90 568.8 1262.1)">&lt;- PwD - MT -&gt;</text>
<text x="795.1" y="1355.8" font-size="18" text-anchor="middle" fill="#111" stroke="#111" stroke-width="0.3" textLength="94.5" lengthAdjust="spacingAndGlyphs">Pulse clarity</text>
<path d="M608.8 1362.2V1451.4H1000.8" fill="none" stroke="#3a3a3a" stroke-width="1.2"/>
<path d="M646.8 1451.4v-4.5" stroke="#3a3a3a" stroke-width="1.2"/>
<path d="M731.8 1451.4v-4.5" stroke="#3a3a3a" stroke-width="1.2"/>
<path d="M816.8 1451.4v-4.5" stroke="#3a3a3a" stroke-width="1.2"/>
<path d="M901.8 1451.4v-4.5" stroke="#3a3a3a" stroke-width="1.2"/>
<path d="M986.8 1451.4v-4.5" stroke="#3a3a3a" stroke-width="1.2"/>
<path d="M608.8 1362.2h4.5" stroke="#3a3a3a" stroke-width="1.2"/>
<path d="M608.8 1406.8h4.5" stroke="#3a3a3a" stroke-width="1.2"/>
<text x="601.2" y="1368.9" font-size="16.2" text-anchor="end" fill="#444" textLength="8.6" lengthAdjust="spacingAndGlyphs" stroke="#444" stroke-width="0.3">1</text>
<text x="601.2" y="1413.5" font-size="16.2" text-anchor="end" fill="#444" textLength="21.6" lengthAdjust="spacingAndGlyphs" stroke="#444" stroke-width="0.3">0.5</text>
<text x="601.2" y="1458.1" font-size="16.2" text-anchor="end" fill="#444" textLength="8.6" lengthAdjust="spacingAndGlyphs" stroke="#444" stroke-width="0.3">0</text>
<text x="645.3" y="1475.8" font-size="16.2" text-anchor="middle" fill="#444" textLength="34.6" lengthAdjust="spacingAndGlyphs" stroke="#444" stroke-width="0.3">1560</text>
<text x="730.3" y="1475.8" font-size="16.2" text-anchor="middle" fill="#444" textLength="34.6" lengthAdjust="spacingAndGlyphs" stroke="#444" stroke-width="0.3">1580</text>
<text x="815.3" y="1475.8" font-size="16.2" text-anchor="middle" fill="#444" textLength="34.6" lengthAdjust="spacingAndGlyphs" stroke="#444" stroke-width="0.3">1600</text>
<text x="900.3" y="1475.8" font-size="16.2" text-anchor="middle" fill="#444" textLength="34.6" lengthAdjust="spacingAndGlyphs" stroke="#444" stroke-width="0.3">1620</text>
<text x="985.3" y="1475.8" font-size="16.2" text-anchor="middle" fill="#444" textLength="34.6" lengthAdjust="spacingAndGlyphs" stroke="#444" stroke-width="0.3">1640</text>
<text x="1011.8" y="1475.8" font-size="16.2" text-anchor="middle" fill="#444" textLength="7.8" lengthAdjust="spacingAndGlyphs" stroke="#444" stroke-width="0.3">s</text>
<text x="786.0" y="1502.2" font-size="18" text-anchor="middle" fill="#111" stroke="#111" stroke-width="0.3" textLength="242.5" lengthAdjust="spacingAndGlyphs">Pulse clarity imitation diagram</text>
<text x="601.2" y="1515.3" font-size="16.2" text-anchor="end" fill="#444" textLength="17.3" lengthAdjust="spacingAndGlyphs" stroke="#444" stroke-width="0.3">13</text>
<text x="601.2" y="1559.5" font-size="16.2" text-anchor="end" fill="#444" textLength="8.6" lengthAdjust="spacingAndGlyphs" stroke="#444" stroke-width="0.3">0</text>
<text x="601.2" y="1603.7" font-size="16.2" text-anchor="end" fill="#444" textLength="22.5" lengthAdjust="spacingAndGlyphs" stroke="#444" stroke-width="0.3">-13</text>
<text x="645.3" y="1621.4" font-size="16.2" text-anchor="middle" fill="#444" textLength="34.6" lengthAdjust="spacingAndGlyphs" stroke="#444" stroke-width="0.3">1560</text>
<text x="730.3" y="1621.4" font-size="16.2" text-anchor="middle" fill="#444" textLength="34.6" lengthAdjust="spacingAndGlyphs" stroke="#444" stroke-width="0.3">1580</text>
<text x="815.3" y="1621.4" font-size="16.2" text-anchor="middle" fill="#444" textLength="34.6" lengthAdjust="spacingAndGlyphs" stroke="#444" stroke-width="0.3">1600</text>
<text x="900.3" y="1621.4" font-size="16.2" text-anchor="middle" fill="#444" textLength="34.6" lengthAdjust="spacingAndGlyphs" stroke="#444" stroke-width="0.3">1620</text>
<text x="985.3" y="1621.4" font-size="16.2" text-anchor="middle" fill="#444" textLength="34.6" lengthAdjust="spacingAndGlyphs" stroke="#444" stroke-width="0.3">1640</text>
<text x="1011.8" y="1621.4" font-size="16.2" text-anchor="middle" fill="#444" textLength="7.8" lengthAdjust="spacingAndGlyphs" stroke="#444" stroke-width="0.3">s</text>
<text x="544.8" y="1555.0" font-size="18" text-anchor="middle" fill="#444" stroke="#444" stroke-width="0.3" textLength="87.0" lengthAdjust="spacingAndGlyphs" transform="rotate(-90 544.8 1555.0)">Leading [s]</text>
<text x="568.8" y="1554.0" font-size="18" text-anchor="middle" fill="#444" stroke="#444" stroke-width="0.3" textLength="113.0" lengthAdjust="spacingAndGlyphs" transform="rotate(-90 568.8 1554.0)">&lt;- PwD - MT -&gt;</text>
<text x="795.3" y="1647.9" font-size="18" text-anchor="middle" fill="#111" stroke="#111" stroke-width="0.3" textLength="108.8" lengthAdjust="spacingAndGlyphs">Synchronicity</text>
<rect x="608.8" y="1654.3" width="392.0" height="89.1" fill="none" stroke="#3a3a3a" stroke-width="1.2"/>
<path d="M646.8 1743.4v-4.5M646.8 1654.3v4.5" stroke="#3a3a3a" stroke-width="1.2"/>
<path d="M731.8 1743.4v-4.5M731.8 1654.3v4.5" stroke="#3a3a3a" stroke-width="1.2"/>
<path d="M816.8 1743.4v-4.5M816.8 1654.3v4.5" stroke="#3a3a3a" stroke-width="1.2"/>
<path d="M901.8 1743.4v-4.5M901.8 1654.3v4.5" stroke="#3a3a3a" stroke-width="1.2"/>
<path d="M986.8 1743.4v-4.5M986.8 1654.3v4.5" stroke="#3a3a3a" stroke-width="1.2"/>
<path d="M608.8 1698.8h4.5M1000.8 1698.8h-4.5" stroke="#3a3a3a" stroke-width="1.2"/>
<text x="601.2" y="1661.0" font-size="16.2" text-anchor="end" fill="#444" textLength="8.6" lengthAdjust="spacingAndGlyphs" stroke="#444" stroke-width="0.3">1</text>
<text x="601.2" y="1705.5" font-size="16.2" text-anchor="end" fill="#444" textLength="21.6" lengthAdjust="spacingAndGlyphs" stroke="#444" stroke-width="0.3">0.5</text>
<text x="601.2" y="1750.1" font-size="16.2" text-anchor="end" fill="#444" textLength="8.6" lengthAdjust="spacingAndGlyphs" stroke="#444" stroke-width="0.3">0</text>
<text x="645.3" y="1767.8" font-size="16.2" text-anchor="middle" fill="#444" textLength="34.6" lengthAdjust="spacingAndGlyphs" stroke="#444" stroke-width="0.3">1560</text>
<text x="730.3" y="1767.8" font-size="16.2" text-anchor="middle" fill="#444" textLength="34.6" lengthAdjust="spacingAndGlyphs" stroke="#444" stroke-width="0.3">1580</text>
<text x="815.3" y="1767.8" font-size="16.2" text-anchor="middle" fill="#444" textLength="34.6" lengthAdjust="spacingAndGlyphs" stroke="#444" stroke-width="0.3">1600</text>
<text x="900.3" y="1767.8" font-size="16.2" text-anchor="middle" fill="#444" textLength="34.6" lengthAdjust="spacingAndGlyphs" stroke="#444" stroke-width="0.3">1620</text>
<text x="985.3" y="1767.8" font-size="16.2" text-anchor="middle" fill="#444" textLength="34.6" lengthAdjust="spacingAndGlyphs" stroke="#444" stroke-width="0.3">1640</text>
<text x="1011.8" y="1767.8" font-size="16.2" text-anchor="middle" fill="#444" textLength="7.8" lengthAdjust="spacingAndGlyphs" stroke="#444" stroke-width="0.3">s</text>
<text x="568.8" y="1694.8" font-size="18" text-anchor="middle" fill="#444" stroke="#444" stroke-width="0.3" textLength="108.0" lengthAdjust="spacingAndGlyphs" transform="rotate(-90 568.8 1694.8)">Synchronicity</text>
<text x="1313.7" y="1063.6" font-size="18" text-anchor="middle" fill="#111" stroke="#111" stroke-width="0.3" textLength="101.0" lengthAdjust="spacingAndGlyphs">Note density</text>
<path d="M1125.0 1070.0V1159.0H1516.0" fill="none" stroke="#3a3a3a" stroke-width="1.2"/>
<path d="M1185.5 1159.0v-4.5" stroke="#3a3a3a" stroke-width="1.2"/>
<path d="M1246.9 1159.0v-4.5" stroke="#3a3a3a" stroke-width="1.2"/>
<path d="M1308.3 1159.0v-4.5" stroke="#3a3a3a" stroke-width="1.2"/>
<path d="M1369.7 1159.0v-4.5" stroke="#3a3a3a" stroke-width="1.2"/>
<path d="M1431.1 1159.0v-4.5" stroke="#3a3a3a" stroke-width="1.2"/>
<path d="M1492.5 1159.0v-4.5" stroke="#3a3a3a" stroke-width="1.2"/>
<path d="M1125.0 1070.0h4.5" stroke="#3a3a3a" stroke-width="1.2"/>
<path d="M1125.0 1114.5h4.5" stroke="#3a3a3a" stroke-width="1.2"/>
<text x="1117.4" y="1076.7" font-size="16.2" text-anchor="end" fill="#444" textLength="8.6" lengthAdjust="spacingAndGlyphs" stroke="#444" stroke-width="0.3">5</text>
<text x="1117.4" y="1121.2" font-size="16.2" text-anchor="end" fill="#444" textLength="21.6" lengthAdjust="spacingAndGlyphs" stroke="#444" stroke-width="0.3">2.5</text>
<text x="1117.4" y="1165.7" font-size="16.2" text-anchor="end" fill="#444" textLength="8.6" lengthAdjust="spacingAndGlyphs" stroke="#444" stroke-width="0.3">0</text>
<text x="1122.6" y="1183.4" font-size="16.2" text-anchor="middle" fill="#444" textLength="34.6" lengthAdjust="spacingAndGlyphs" stroke="#444" stroke-width="0.3">1655</text>
<text x="1184.0" y="1183.4" font-size="16.2" text-anchor="middle" fill="#444" textLength="34.6" lengthAdjust="spacingAndGlyphs" stroke="#444" stroke-width="0.3">1660</text>
<text x="1245.4" y="1183.4" font-size="16.2" text-anchor="middle" fill="#444" textLength="34.6" lengthAdjust="spacingAndGlyphs" stroke="#444" stroke-width="0.3">1665</text>
<text x="1306.8" y="1183.4" font-size="16.2" text-anchor="middle" fill="#444" textLength="34.6" lengthAdjust="spacingAndGlyphs" stroke="#444" stroke-width="0.3">1670</text>
<text x="1368.2" y="1183.4" font-size="16.2" text-anchor="middle" fill="#444" textLength="34.6" lengthAdjust="spacingAndGlyphs" stroke="#444" stroke-width="0.3">1675</text>
<text x="1429.6" y="1183.4" font-size="16.2" text-anchor="middle" fill="#444" textLength="34.6" lengthAdjust="spacingAndGlyphs" stroke="#444" stroke-width="0.3">1680</text>
<text x="1491.0" y="1183.4" font-size="16.2" text-anchor="middle" fill="#444" textLength="34.6" lengthAdjust="spacingAndGlyphs" stroke="#444" stroke-width="0.3">1685</text>
<text x="1517.5" y="1183.4" font-size="16.2" text-anchor="middle" fill="#444" textLength="7.8" lengthAdjust="spacingAndGlyphs" stroke="#444" stroke-width="0.3">s</text>
<text x="1086.5" y="1116.5" font-size="18" text-anchor="middle" fill="#444" stroke="#444" stroke-width="0.3" textLength="68.0" lengthAdjust="spacingAndGlyphs" transform="rotate(-90 1086.5 1116.5)">[notes/s]</text>
<text x="1304.5" y="1209.9" font-size="18" text-anchor="middle" fill="#111" stroke="#111" stroke-width="0.3" textLength="249.3" lengthAdjust="spacingAndGlyphs">Note density imitation diagram</text>
<text x="1117.4" y="1223.0" font-size="16.2" text-anchor="end" fill="#444" textLength="17.3" lengthAdjust="spacingAndGlyphs" stroke="#444" stroke-width="0.3">13</text>
<text x="1117.4" y="1267.6" font-size="16.2" text-anchor="end" fill="#444" textLength="8.6" lengthAdjust="spacingAndGlyphs" stroke="#444" stroke-width="0.3">0</text>
<text x="1117.4" y="1312.2" font-size="16.2" text-anchor="end" fill="#444" textLength="22.5" lengthAdjust="spacingAndGlyphs" stroke="#444" stroke-width="0.3">-13</text>
<text x="1122.6" y="1329.9" font-size="16.2" text-anchor="middle" fill="#444" textLength="34.6" lengthAdjust="spacingAndGlyphs" stroke="#444" stroke-width="0.3">1655</text>
<text x="1184.0" y="1329.9" font-size="16.2" text-anchor="middle" fill="#444" textLength="34.6" lengthAdjust="spacingAndGlyphs" stroke="#444" stroke-width="0.3">1660</text>
<text x="1245.4" y="1329.9" font-size="16.2" text-anchor="middle" fill="#444" textLength="34.6" lengthAdjust="spacingAndGlyphs" stroke="#444" stroke-width="0.3">1665</text>
<text x="1306.8" y="1329.9" font-size="16.2" text-anchor="middle" fill="#444" textLength="34.6" lengthAdjust="spacingAndGlyphs" stroke="#444" stroke-width="0.3">1670</text>
<text x="1368.2" y="1329.9" font-size="16.2" text-anchor="middle" fill="#444" textLength="34.6" lengthAdjust="spacingAndGlyphs" stroke="#444" stroke-width="0.3">1675</text>
<text x="1429.6" y="1329.9" font-size="16.2" text-anchor="middle" fill="#444" textLength="34.6" lengthAdjust="spacingAndGlyphs" stroke="#444" stroke-width="0.3">1680</text>
<text x="1491.0" y="1329.9" font-size="16.2" text-anchor="middle" fill="#444" textLength="34.6" lengthAdjust="spacingAndGlyphs" stroke="#444" stroke-width="0.3">1685</text>
<text x="1517.5" y="1329.9" font-size="16.2" text-anchor="middle" fill="#444" textLength="7.8" lengthAdjust="spacingAndGlyphs" stroke="#444" stroke-width="0.3">s</text>
<text x="1061.0" y="1263.1" font-size="18" text-anchor="middle" fill="#444" stroke="#444" stroke-width="0.3" textLength="87.0" lengthAdjust="spacingAndGlyphs" transform="rotate(-90 1061.0 1263.1)">Leading [s]</text>
<text x="1085.0" y="1262.1" font-size="18" text-anchor="middle" fill="#444" stroke="#444" stroke-width="0.3" textLength="113.0" lengthAdjust="spacingAndGlyphs" transform="rotate(-90 1085.0 1262.1)">&lt;- PwD - MT -&gt;</text>
<text x="1311.2" y="1355.8" font-size="18" text-anchor="middle" fill="#111" stroke="#111" stroke-width="0.3" textLength="94.5" lengthAdjust="spacingAndGlyphs">Pulse clarity</text>
<path d="M1125.0 1362.2V1451.4H1516.0" fill="none" stroke="#3a3a3a" stroke-width="1.2"/>
<path d="M1185.5 1451.4v-4.5" stroke="#3a3a3a" stroke-width="1.2"/>
<path d="M1246.9 1451.4v-4.5" stroke="#3a3a3a" stroke-width="1.2"/>
<path d="M1308.3 1451.4v-4.5" stroke="#3a3a3a" stroke-width="1.2"/>
<path d="M1369.7 1451.4v-4.5" stroke="#3a3a3a" stroke-width="1.2"/>
<path d="M1431.1 1451.4v-4.5" stroke="#3a3a3a" stroke-width="1.2"/>
<path d="M1492.5 1451.4v-4.5" stroke="#3a3a3a" stroke-width="1.2"/>
<path d="M1125.0 1362.2h4.5" stroke="#3a3a3a" stroke-width="1.2"/>
<path d="M1125.0 1406.8h4.5" stroke="#3a3a3a" stroke-width="1.2"/>
<text x="1117.4" y="1368.9" font-size="16.2" text-anchor="end" fill="#444" textLength="8.6" lengthAdjust="spacingAndGlyphs" stroke="#444" stroke-width="0.3">1</text>
<text x="1117.4" y="1413.5" font-size="16.2" text-anchor="end" fill="#444" textLength="21.6" lengthAdjust="spacingAndGlyphs" stroke="#444" stroke-width="0.3">0.5</text>
<text x="1117.4" y="1458.1" font-size="16.2" text-anchor="end" fill="#444" textLength="8.6" lengthAdjust="spacingAndGlyphs" stroke="#444" stroke-width="0.3">0</text>
<text x="1122.6" y="1475.8" font-size="16.2" text-anchor="middle" fill="#444" textLength="34.6" lengthAdjust="spacingAndGlyphs" stroke="#444" stroke-width="0.3">1655</text>
<text x="1184.0" y="1475.8" font-size="16.2" text-anchor="middle" fill="#444" textLength="34.6" lengthAdjust="spacingAndGlyphs" stroke="#444" stroke-width="0.3">1660</text>
<text x="1245.4" y="1475.8" font-size="16.2" text-anchor="middle" fill="#444" textLength="34.6" lengthAdjust="spacingAndGlyphs" stroke="#444" stroke-width="0.3">1665</text>
<text x="1306.8" y="1475.8" font-size="16.2" text-anchor="middle" fill="#444" textLength="34.6" lengthAdjust="spacingAndGlyphs" stroke="#444" stroke-width="0.3">1670</text>
<text x="1368.2" y="1475.8" font-size="16.2" text-anchor="middle" fill="#444" textLength="34.6" lengthAdjust="spacingAndGlyphs" stroke="#444" stroke-width="0.3">1675</text>
<text x="1429.6" y="1475.8" font-size="16.2" text-anchor="middle" fill="#444" textLength="34.6" lengthAdjust="spacingAndGlyphs" stroke="#444" stroke-width="0.3">1680</text>
<text x="1491.0" y="1475.8" font-size="16.2" text-anchor="middle" fill="#444" textLength="34.6" lengthAdjust="spacingAndGlyphs" stroke="#444" stroke-width="0.3">1685</text>
<text x="1517.5" y="1475.8" font-size="16.2" text-anchor="middle" fill="#444" textLength="7.8" lengthAdjust="spacingAndGlyphs" stroke="#444" stroke-width="0.3">s</text>
<text x="1302.1" y="1502.2" font-size="18" text-anchor="middle" fill="#111" stroke="#111" stroke-width="0.3" textLength="242.5" lengthAdjust="spacingAndGlyphs">Pulse clarity imitation diagram</text>
<text x="1117.4" y="1515.3" font-size="16.2" text-anchor="end" fill="#444" textLength="17.3" lengthAdjust="spacingAndGlyphs" stroke="#444" stroke-width="0.3">13</text>
<text x="1117.4" y="1559.5" font-size="16.2" text-anchor="end" fill="#444" textLength="8.6" lengthAdjust="spacingAndGlyphs" stroke="#444" stroke-width="0.3">0</text>
<text x="1117.4" y="1603.7" font-size="16.2" text-anchor="end" fill="#444" textLength="22.5" lengthAdjust="spacingAndGlyphs" stroke="#444" stroke-width="0.3">-13</text>
<text x="1122.6" y="1621.4" font-size="16.2" text-anchor="middle" fill="#444" textLength="34.6" lengthAdjust="spacingAndGlyphs" stroke="#444" stroke-width="0.3">1655</text>
<text x="1184.0" y="1621.4" font-size="16.2" text-anchor="middle" fill="#444" textLength="34.6" lengthAdjust="spacingAndGlyphs" stroke="#444" stroke-width="0.3">1660</text>
<text x="1245.4" y="1621.4" font-size="16.2" text-anchor="middle" fill="#444" textLength="34.6" lengthAdjust="spacingAndGlyphs" stroke="#444" stroke-width="0.3">1665</text>
<text x="1306.8" y="1621.4" font-size="16.2" text-anchor="middle" fill="#444" textLength="34.6" lengthAdjust="spacingAndGlyphs" stroke="#444" stroke-width="0.3">1670</text>
<text x="1368.2" y="1621.4" font-size="16.2" text-anchor="middle" fill="#444" textLength="34.6" lengthAdjust="spacingAndGlyphs" stroke="#444" stroke-width="0.3">1675</text>
<text x="1429.6" y="1621.4" font-size="16.2" text-anchor="middle" fill="#444" textLength="34.6" lengthAdjust="spacingAndGlyphs" stroke="#444" stroke-width="0.3">1680</text>
<text x="1491.0" y="1621.4" font-size="16.2" text-anchor="middle" fill="#444" textLength="34.6" lengthAdjust="spacingAndGlyphs" stroke="#444" stroke-width="0.3">1685</text>
<text x="1517.5" y="1621.4" font-size="16.2" text-anchor="middle" fill="#444" textLength="7.8" lengthAdjust="spacingAndGlyphs" stroke="#444" stroke-width="0.3">s</text>
<text x="1061.0" y="1555.0" font-size="18" text-anchor="middle" fill="#444" stroke="#444" stroke-width="0.3" textLength="87.0" lengthAdjust="spacingAndGlyphs" transform="rotate(-90 1061.0 1555.0)">Leading [s]</text>
<text x="1085.0" y="1554.0" font-size="18" text-anchor="middle" fill="#444" stroke="#444" stroke-width="0.3" textLength="113.0" lengthAdjust="spacingAndGlyphs" transform="rotate(-90 1085.0 1554.0)">&lt;- PwD - MT -&gt;</text>
<text x="1311.4" y="1647.9" font-size="18" text-anchor="middle" fill="#111" stroke="#111" stroke-width="0.3" textLength="108.8" lengthAdjust="spacingAndGlyphs">Synchronicity</text>
<rect x="1125.0" y="1654.3" width="391.0" height="89.1" fill="none" stroke="#3a3a3a" stroke-width="1.2"/>
<path d="M1185.5 1743.4v-4.5M1185.5 1654.3v4.5" stroke="#3a3a3a" stroke-width="1.2"/>
<path d="M1246.9 1743.4v-4.5M1246.9 1654.3v4.5" stroke="#3a3a3a" stroke-width="1.2"/>
<path d="M1308.3 1743.4v-4.5M1308.3 1654.3v4.5" stroke="#3a3a3a" stroke-width="1.2"/>
<path d="M1369.7 1743.4v-4.5M1369.7 1654.3v4.5" stroke="#3a3a3a" stroke-width="1.2"/>
<path d="M1431.1 1743.4v-4.5M1431.1 1654.3v4.5" stroke="#3a3a3a" stroke-width="1.2"/>
<path d="M1492.5 1743.4v-4.5M1492.5 1654.3v4.5" stroke="#3a3a3a" stroke-width="1.2"/>
<path d="M1125.0 1698.8h4.5M1516.0 1698.8h-4.5" stroke="#3a3a3a" stroke-width="1.2"/>
<text x="1117.4" y="1661.0" font-size="16.2" text-anchor="end" fill="#444" textLength="8.6" lengthAdjust="spacingAndGlyphs" stroke="#444" stroke-width="0.3">1</text>
<text x="1117.4" y="1705.5" font-size="16.2" text-anchor="end" fill="#444" textLength="21.6" lengthAdjust="spacingAndGlyphs" stroke="#444" stroke-width="0.3">0.5</text>
<text x="1117.4" y="1750.1" font-size="16.2" text-anchor="end" fill="#444" textLength="8.6" lengthAdjust="spacingAndGlyphs" stroke="#444" stroke-width="0.3">0</text>
<text x="1122.6" y="1767.8" font-size="16.2" text-anchor="middle" fill="#444" textLength="34.6" lengthAdjust="spacingAndGlyphs" stroke="#444" stroke-width="0.3">1655</text>
<text x="1184.0" y="1767.8" font-size="16.2" text-anchor="middle" fill="#444" textLength="34.6" lengthAdjust="spacingAndGlyphs" stroke="#444" stroke-width="0.3">1660</text>
<text x="1245.4" y="1767.8" font-size="16.2" text-anchor="middle" fill="#444" textLength="34.6" lengthAdjust="spacingAndGlyphs" stroke="#444" stroke-width="0.3">1665</text>
<text x="1306.8" y="1767.8" font-size="16.2" text-anchor="middle" fill="#444" textLength="34.6" lengthAdjust="spacingAndGlyphs" stroke="#444" stroke-width="0.3">1670</text>
<text x="1368.2" y="1767.8" font-size="16.2" text-anchor="middle" fill="#444" textLength="34.6" lengthAdjust="spacingAndGlyphs" stroke="#444" stroke-width="0.3">1675</text>
<text x="1429.6" y="1767.8" font-size="16.2" text-anchor="middle" fill="#444" textLength="34.6" lengthAdjust="spacingAndGlyphs" stroke="#444" stroke-width="0.3">1680</text>
<text x="1491.0" y="1767.8" font-size="16.2" text-anchor="middle" fill="#444" textLength="34.6" lengthAdjust="spacingAndGlyphs" stroke="#444" stroke-width="0.3">1685</text>
<text x="1517.5" y="1767.8" font-size="16.2" text-anchor="middle" fill="#444" textLength="7.8" lengthAdjust="spacingAndGlyphs" stroke="#444" stroke-width="0.3">s</text>
<text x="1085.0" y="1694.8" font-size="18" text-anchor="middle" fill="#444" stroke="#444" stroke-width="0.3" textLength="108.0" lengthAdjust="spacingAndGlyphs" transform="rotate(-90 1085.0 1694.8)">Synchronicity</text>
<g clip-path="url(#hc1)"><g filter="url(#pm)"><rect x="76.8" y="287.5" width="411.7" height="110.0" fill="#0d0d0d"/><path d="M87.2 341.7 L108.2 337.8 L134.4 331.3 L160.5 316.9 L191.9 311.6 L218.1 314.3 L239.1 323.4 L265.2 324.7 L304.5 324.7 L330.7 328.6 L356.9 336.5 L377.8 340.4 L370.0 348.3 L343.8 358.8 L317.6 362.7 L291.4 361.4 L265.2 361.4 L212.9 362.7 L160.5 367.9 L116.0 366.6 L87.2 343.0Z" fill="#242424" filter="url(#b2)"/><path d="M372.6 299.9 L417.1 299.9 L422.3 307.7 L404.0 323.4 L388.3 318.2Z" fill="#212121" filter="url(#b3)"/><path d="M393.4 358.1 L413.4 355.4 L432.1 350.7 L440.1 342.1 L446.8 331.4 L456.8 328.0 L466.8 334.1 L477.5 342.7 L446.8 367.4 L433.4 380.8 L413.4 382.8 L396.7 370.8Z" fill="#333333" filter="url(#b2)"/><path d="M384.0 306.0 L400.0 302.0 L408.0 310.7 L403.4 322.7 L388.0 320.7Z" fill="#333333" filter="url(#b3)"/><path d="M88.5 341.7 L113.4 338.6 L142.2 332.6 L165.8 320.8 L197.2 318.2 L218.1 324.7 L252.2 330.0 L291.4 330.0 L330.7 332.6 L354.3 341.7 L341.2 354.8 L317.6 358.8 L278.3 358.8 L239.1 358.8 L199.8 360.6 L160.5 365.8 L118.6 365.3 L89.9 344.4Z" fill="#474747" filter="url(#b2)"/><path d="M426.7 352.7 L440.1 340.7 L456.8 335.4 L473.5 336.1 L477.5 342.7 L465.4 354.1 L450.1 364.8 L433.4 360.8Z" fill="#4c4c4c" filter="url(#b2)"/><path d="M432.1 350.7 L440.1 343.4 L456.8 338.7 L473.5 338.4 L477.1 342.7 L465.4 352.7 L450.1 361.4 L436.7 357.4Z" fill="#6b6b6b" filter="url(#b2)"/><path d="M89.9 342.3 L118.6 342.3 L144.8 337.0 L168.4 327.3 L194.6 327.3 L226.0 335.2 L265.2 337.8 L304.5 340.4 L341.2 343.8 L333.3 354.3 L291.4 355.4 L252.2 355.4 L199.8 356.7 L160.5 360.6 L121.3 360.6 L95.1 347.5Z" fill="#707070" filter="url(#b2)"/><path d="M97.7 345.7 L134.4 344.4 L152.7 336.5 L168.4 332.6 L194.6 333.9 L226.0 340.4 L265.2 342.3 L304.5 343.8 L333.3 347.0 L304.5 351.7 L265.2 352.2 L212.9 353.5 L181.5 354.3 L147.4 356.4 L113.4 358.0 L97.7 350.9Z" fill="#8f8f8f" filter="url(#b2)"/><path d="M102.9 349.6 L139.6 347.0 L155.3 338.6 L171.0 336.0 L191.9 337.0 L218.1 341.7 L249.5 344.4 L228.6 350.1 L191.9 351.2 L160.5 352.7 L134.4 355.4 L108.2 356.9Z" fill="#9e9e9e" filter="url(#b2)"/><path d="M443.4 347.4 L456.8 344.7 L470.1 343.4 L476.8 343.1 L470.1 349.4 L456.8 351.4 L445.4 350.7Z" fill="#949494" filter="url(#b2)"/><path d="M105.6 352.2 L134.4 351.2 L147.4 344.4 L165.8 339.1 L186.7 339.9 L199.8 343.8 L181.5 348.0 L160.5 350.1 L134.4 355.4 L108.2 356.4Z" fill="#b8b8b8" filter="url(#b2)"/><path d="M461.4 347.4 L470.1 346.1 L476.8 343.4 L468.8 350.7 L463.4 350.1Z" fill="#b8b8b8" filter="url(#b1)"/><path d="M113.4 353.8 L134.4 353.3 L144.8 348.0 L160.5 342.3 L178.9 342.5 L168.4 347.5 L144.8 354.3 L116.0 355.9Z" fill="#c4c4c4" filter="url(#b2)"/></g></g>
<g clip-path="url(#hc2)"><g filter="url(#pm)"><rect x="600.0" y="287.5" width="412.2" height="110.0" fill="#0d0d0d"/><path d="M611.5 302.6 L618.4 300.9 L625.3 384.7 L617.5 385.6Z" fill="#242424" filter="url(#b3)"/><path d="M629.6 350.2 L636.5 322.5 L644.3 307.0 L655.5 307.0 L711.7 309.5 L716.0 319.9 L722.9 337.2 L720.3 350.2 L711.7 356.2 L655.5 354.5 L653.8 387.3 L627.0 387.3 L621.0 367.4Z" fill="#404040" filter="url(#b2)"/><path d="M725.4 331.3 L772.5 298.5 L814.4 331.3 L793.5 386.2 L751.6 386.2Z" fill="#2b2b2b" filter="url(#b3)"/><path d="M824.9 299.9 L853.7 299.9 L856.3 312.9 L827.5 314.3Z" fill="#292929" filter="url(#b3)"/><path d="M961.0 299.9 L974.1 299.9 L971.5 307.7Z" fill="#262626" filter="url(#b3)"/><path d="M856.3 367.9 L893.0 365.3 L895.6 386.2 L856.3 386.2Z" fill="#292929" filter="url(#b3)"/><path d="M913.9 370.5 L932.2 370.5 L932.2 386.2 L913.9 386.2Z" fill="#262626" filter="url(#b3)"/><path d="M633.9 321.6 L720.3 319.9 L722.9 337.2 L721.2 350.2 L635.6 351.0 L633.1 337.2Z" fill="#707070" filter="url(#b2)"/><path d="M639.1 322.1 L713.4 322.1 L713.4 328.6 L639.1 328.6Z" fill="#9e9e9e" filter="url(#b1)"/><path d="M636.5 332.0 L720.3 332.9 L720.3 341.1 L636.5 341.1Z" fill="#9e9e9e" filter="url(#b1)"/><ellipse cx="707.8" cy="346.7" rx="5.2" ry="2.6" fill="#9e9e9e" filter="url(#b1)"/><path d="M639.1 334.6 L720.3 335.3 L720.3 337.6 L639.1 338.5Z" fill="#bdbdbd" filter="url(#b1)"/><ellipse cx="708.2" cy="336.8" rx="4.3" ry="1.6" fill="#d1d1d1" filter="url(#b1)"/><ellipse cx="643.4" cy="324.7" rx="2.6" ry="2.6" fill="#999999" filter="url(#b1)"/><path d="M729.3 331.3 L772.5 301.9 L811.8 331.3 L771.2 364.0Z" fill="#616161" filter="url(#b2)"/><path d="M734.6 331.3 L773.8 312.4 L805.3 331.3 L769.9 349.6Z" fill="#8f8f8f" filter="url(#b2)"/><path d="M738.5 331.3 L777.8 317.7 L800.0 331.8 L767.3 342.3Z" fill="#d6d6d6" filter="url(#b1)"/><path d="M798.7 337.8 L866.8 333.9 L877.3 323.4 L945.3 328.6 L953.2 354.8 L982.0 362.7 L979.3 370.5 L950.5 367.9 L942.7 341.7 L877.3 340.4 L866.8 348.3 L804.0 348.3Z" fill="#4c4c4c" filter="url(#b2)"/><path d="M804.0 339.1 L866.8 336.5 L877.3 327.3 L940.1 331.3 L945.3 340.4 L877.3 339.1 L866.8 345.7 L804.0 345.7Z" fill="#6b6b6b" filter="url(#b2)"/><path d="M877.3 326.0 L885.1 323.4 L893.0 331.3 L879.9 335.2Z" fill="#737373" filter="url(#b2)"/><path d="M987.2 341.7 L1000.8 336.5 L1000.8 354.8 L989.8 353.5Z" fill="#666666" filter="url(#b2)"/><path d="M992.4 345.7 L1000.8 343.0 L1000.8 348.3Z" fill="#b2b2b2" filter="url(#b1)"/></g></g>
<g clip-path="url(#hc3)"><g filter="url(#pm)"><rect x="76.8" y="580.0" width="411.7" height="109.5" fill="#0d0d0d"/><path d="M87.2 633.7 L134.4 591.9 L422.3 591.9 L477.3 633.7 L435.4 667.8 L396.1 673.0 L343.8 662.5 L160.5 659.9 L116.0 658.6Z" fill="#1a1a1a" filter="url(#b3)"/><path d="M134.4 594.5 L160.5 594.5 L165.8 610.2 L139.6 612.8Z" fill="#292929" filter="url(#b3)"/><path d="M330.7 591.9 L383.0 591.9 L383.0 599.7 L330.7 598.4Z" fill="#262626" filter="url(#b3)"/><path d="M127.8 633.7 L155.3 608.9 L239.1 608.9 L291.4 614.1 L343.8 616.7 L367.3 622.0 L372.6 640.3 L390.9 642.9 L390.9 657.3 L343.8 656.0 L265.2 650.8 L186.7 652.6 L147.4 651.5 L127.8 642.1Z" fill="#4c4c4c" filter="url(#b2)"/><path d="M131.2 633.7 L155.3 612.3 L239.1 613.3 L304.5 618.0 L350.3 619.9 L360.8 631.1 L350.3 642.1 L304.5 644.7 L239.1 647.4 L160.5 650.0 L133.8 642.1Z" fill="#707070" filter="url(#b2)"/><path d="M138.3 632.7 L149.5 617.5 L239.1 618.6 L291.4 622.2 L343.8 623.8 L350.3 632.4 L339.9 637.1 L291.4 638.5 L239.1 641.1 L160.5 642.4 L140.9 639.5Z" fill="#999999" filter="url(#b2)"/><path d="M146.9 630.1 L155.3 622.0 L239.1 622.7 L278.3 626.4 L291.4 628.0 L335.9 628.0 L342.5 632.4 L317.6 634.3 L278.3 634.3 L239.1 636.9 L160.5 638.2 L146.9 636.4Z" fill="#bdbdbd" filter="url(#b2)"/><path d="M150.6 630.6 L157.9 623.8 L239.1 624.8 L265.2 627.5 L270.5 631.1 L262.6 634.3 L239.1 635.3 L160.5 636.4 L150.6 635.3Z" fill="#e0e0e0" filter="url(#b2)"/><path d="M370.0 644.2 L388.3 645.5 L388.3 654.7 L370.0 653.4Z" fill="#6b6b6b" filter="url(#b2)"/><ellipse cx="394.8" cy="618.6" rx="10.5" ry="3.7" fill="#6b6b6b" filter="url(#b2)"/><path d="M92.5 640.3 L97.7 639.5 L108.2 648.1 L104.3 650.0Z" fill="#5c5c5c" filter="url(#b2)"/><path d="M409.2 636.4 L422.3 625.9 L459.0 628.5 L476.8 634.3 L459.0 649.4 L422.3 650.8Z" fill="#4c4c4c" filter="url(#b2)"/><ellipse cx="434.1" cy="639.0" rx="20.9" ry="8.4" fill="#707070" filter="url(#b2)"/><ellipse cx="436.7" cy="639.0" rx="13.1" ry="4.7" fill="#949494" filter="url(#b2)"/><ellipse cx="439.3" cy="639.0" rx="7.3" ry="2.1" fill="#b8b8b8" filter="url(#b1)"/><path d="M457.7 640.3 L476.0 635.0 L469.4 642.9 L459.0 643.7Z" fill="#d1d1d1" filter="url(#b1)"/></g></g>
<g clip-path="url(#hc4)"><g filter="url(#pm)"><rect x="600.0" y="580.0" width="412.2" height="109.5" fill="#0d0d0d"/><path d="M623.3 652.1 L667.8 649.4 L670.4 678.2 L625.9 678.2Z" fill="#4c4c4c" filter="url(#b3)"/><ellipse cx="652.1" cy="633.7" rx="30.1" ry="22.3" fill="#4c4c4c" filter="url(#b3)"/><ellipse cx="644.3" cy="667.8" rx="15.7" ry="10.5" fill="#666666" filter="url(#b2)"/><ellipse cx="644.3" cy="632.4" rx="16.2" ry="14.7" fill="#6b6b6b" filter="url(#b2)"/><ellipse cx="643.0" cy="632.2" rx="9.9" ry="8.4" fill="#949494" filter="url(#b2)"/><ellipse cx="643.0" cy="632.2" rx="6.8" ry="5.0" fill="#cccccc" filter="url(#b2)"/><ellipse cx="704.5" cy="652.6" rx="13.6" ry="11.8" fill="#474747" filter="url(#b2)"/><ellipse cx="704.5" cy="651.5" rx="7.9" ry="7.3" fill="#6b6b6b" filter="url(#b2)"/><path d="M730.7 594.5 L785.6 594.5 L790.9 628.5 L751.6 631.1 L730.7 615.4Z" fill="#575757" filter="url(#b2)"/><path d="M704.5 591.9 L777.8 591.9 L775.2 599.7 L709.7 599.7Z" fill="#616161" filter="url(#b2)"/><ellipse cx="767.3" cy="616.7" rx="19.6" ry="11.8" fill="#707070" filter="url(#b2)"/><path d="M798.7 628.5 L866.8 623.3 L955.8 612.8 L958.4 636.4 L866.8 644.2 L804.0 649.4Z" fill="#424242" filter="url(#b3)"/><ellipse cx="817.0" cy="639.0" rx="13.6" ry="7.9" fill="#707070" filter="url(#b2)"/><ellipse cx="817.0" cy="638.5" rx="8.4" ry="4.2" fill="#8c8c8c" filter="url(#b2)"/><ellipse cx="857.6" cy="635.8" rx="8.4" ry="5.8" fill="#6b6b6b" filter="url(#b2)"/><path d="M890.3 616.7 L950.5 615.4 L951.9 628.5 L890.3 628.5Z" fill="#707070" filter="url(#b2)"/><path d="M961.0 591.9 L976.7 591.9 L1000.8 628.5 L1000.8 646.8 L989.8 641.6 L966.3 612.8Z" fill="#4c4c4c" filter="url(#b2)"/><ellipse cx="966.8" cy="593.9" rx="3.7" ry="2.6" fill="#b2b2b2" filter="url(#b1)"/><path d="M996.4 633.7 L1000.8 631.1 L1000.8 642.9Z" fill="#adadad" filter="url(#b1)"/><ellipse cx="824.9" cy="674.3" rx="11.8" ry="6.5" fill="#6b6b6b" filter="url(#b2)"/><ellipse cx="923.1" cy="674.3" rx="10.5" ry="5.8" fill="#525252" filter="url(#b2)"/></g></g>
<g clip-path="url(#hc5)"><g filter="url(#pm)"><rect x="78.8" y="1206.3" width="411.2" height="109.2" fill="#0d0d0d"/><path d="M89.2 1260.7 L188.7 1239.8 L332.7 1231.9 L479.3 1260.7 L358.9 1286.9 L188.7 1280.4Z" fill="#333333" filter="url(#b1)"/><path d="M89.8 1260.7 L162.5 1246.3 L267.2 1246.3 L332.7 1239.8 L398.1 1243.7 L478.8 1260.7 L398.1 1275.1 L319.6 1278.5 L241.1 1275.9 L162.5 1275.1Z" fill="#4c4c4c" filter="url(#b1)"/><path d="M90.5 1260.7 L162.5 1250.8 L267.2 1250.8 L332.7 1246.3 L398.1 1249.0 L478.0 1260.7 L398.1 1270.7 L319.6 1271.7 L241.1 1270.7 L162.5 1271.2Z" fill="#707070" filter="url(#b2)"/><path d="M91.3 1260.7 L162.5 1255.5 L267.2 1255.0 L345.8 1252.4 L424.3 1255.0 L477.2 1260.7 L424.3 1266.0 L345.8 1266.5 L267.2 1265.5 L162.5 1266.5Z" fill="#949494" filter="url(#b2)"/><path d="M91.9 1260.7 L136.4 1258.1 L220.1 1259.2 L267.2 1259.7 L220.1 1262.8 L162.5 1264.4 L110.2 1263.4Z" fill="#a8a8a8" filter="url(#b1)"/><path d="M319.6 1259.2 L385.0 1256.8 L437.4 1259.2 L385.0 1262.8 L319.6 1262.3Z" fill="#a8a8a8" filter="url(#b1)"/><path d="M99.7 1260.7 L136.4 1259.4 L201.8 1260.0 L162.5 1262.3 L110.2 1262.3Z" fill="#b8b8b8" filter="url(#b1)"/><path d="M345.8 1259.7 L385.0 1258.1 L419.1 1259.7 L385.0 1261.8Z" fill="#b8b8b8" filter="url(#b1)"/></g></g>
<g clip-path="url(#hc6)"><g filter="url(#pm)"><rect x="598.8" y="1206.3" width="412.0" height="109.2" fill="#0d0d0d"/><path d="M667.8 1242.4 L683.5 1231.9 L749.0 1226.7 L801.3 1231.9 L893.0 1234.6 L919.1 1250.3 L906.0 1271.2 L853.7 1289.5 L814.4 1289.5 L788.2 1268.6 L722.8 1263.4 L683.5 1250.3Z" fill="#262626" filter="url(#b3)"/><path d="M644.3 1289.5 L762.1 1286.9 L762.1 1300.0 L652.1 1302.6Z" fill="#242424" filter="url(#b3)"/><path d="M610.2 1258.1 L615.5 1255.5 L633.8 1276.4 L628.6 1283.0Z" fill="#333333" filter="url(#b2)"/><ellipse cx="845.8" cy="1247.6" rx="55.0" ry="17.0" fill="#474747" filter="url(#b3)"/><ellipse cx="845.8" cy="1247.6" rx="41.9" ry="13.1" fill="#6b6b6b" filter="url(#b2)"/><ellipse cx="841.9" cy="1247.6" rx="22.3" ry="8.4" fill="#808080" filter="url(#b2)"/><ellipse cx="843.2" cy="1247.6" rx="11.8" ry="4.7" fill="#919191" filter="url(#b2)"/><path d="M919.1 1266.0 L945.3 1258.1 L976.7 1258.1 L1000.3 1260.2 L976.7 1276.4 L961.0 1292.2 L929.6 1292.2 L919.1 1279.1Z" fill="#454545" filter="url(#b3)"/><ellipse cx="945.3" cy="1277.0" rx="16.2" ry="11.8" fill="#6b6b6b" filter="url(#b2)"/><path d="M942.7 1267.3 L976.7 1262.3 L1000.3 1260.7 L976.7 1271.7 L955.8 1277.0Z" fill="#6b6b6b" filter="url(#b2)"/><path d="M932.2 1224.1 L945.3 1224.1 L945.3 1234.6 L932.2 1234.6Z" fill="#292929" filter="url(#b3)"/></g></g>
<g clip-path="url(#hc7)"><g filter="url(#pm)"><rect x="1115.0" y="1206.3" width="411.0" height="109.2" fill="#0d0d0d"/><path d="M1127.9 1260.7 L1250.9 1245.0 L1321.6 1237.2 L1381.8 1242.4 L1512.7 1260.7 L1381.8 1271.2 L1277.1 1279.1 L1224.7 1273.8Z" fill="#333333" filter="url(#b1)"/><path d="M1127.9 1260.7 L1224.7 1250.3 L1329.4 1243.7 L1434.1 1250.3 L1512.7 1260.7 L1434.1 1269.9 L1329.4 1271.2 L1224.7 1268.6Z" fill="#616161" filter="url(#b1)"/><path d="M1140.9 1260.2 L1224.7 1252.4 L1329.4 1247.1 L1434.1 1251.8 L1499.6 1260.2 L1434.1 1267.5 L1329.4 1268.6 L1224.7 1266.5Z" fill="#737373" filter="url(#b1)"/><path d="M1211.6 1257.1 L1329.4 1256.0 L1460.3 1258.1 L1460.3 1259.7 L1329.4 1258.6 L1211.6 1259.2Z" fill="#525252" filter="url(#b1)"/><path d="M1185.4 1253.4 L1237.8 1249.0 L1303.2 1249.7 L1250.9 1252.4 L1198.5 1255.0Z" fill="#949494" filter="url(#b1)"/><path d="M1193.3 1252.9 L1224.7 1250.3 L1245.7 1250.3 L1219.5 1252.9Z" fill="#a3a3a3" filter="url(#b1)"/><path d="M1408.0 1266.5 L1460.3 1263.9 L1497.0 1261.3 L1460.3 1266.5 L1421.0 1268.1Z" fill="#8f8f8f" filter="url(#b1)"/></g></g>
<g clip-path="url(#hc8)"><g filter="url(#pm)"><rect x="78.8" y="1498.6" width="411.2" height="108.4" fill="#0d0d0d"/><path d="M136.4 1542.3 L201.8 1544.9 L201.8 1550.1 L136.4 1548.8Z" fill="#292929" filter="url(#b3)"/><path d="M149.4 1564.5 L214.9 1571.1 L332.7 1581.5 L319.6 1589.4 L241.1 1589.4 L175.6 1571.1Z" fill="#2b2b2b" filter="url(#b3)"/><path d="M246.3 1544.9 L293.4 1537.0 L398.1 1537.0 L479.3 1552.7 L424.3 1563.2 L345.8 1555.4 L254.2 1546.2Z" fill="#333333" filter="url(#b3)"/><path d="M89.2 1552.7 L115.4 1547.0 L162.5 1555.4 L165.2 1561.9 L136.4 1563.7 L89.2 1554.0Z" fill="#474747" filter="url(#b2)"/><path d="M99.7 1552.7 L123.3 1552.2 L157.3 1558.0 L149.4 1561.9 L123.3 1559.5Z" fill="#707070" filter="url(#b2)"/><path d="M385.0 1550.1 L424.3 1546.2 L479.3 1552.7 L450.5 1558.0 L398.1 1556.7Z" fill="#4c4c4c" filter="url(#b2)"/><path d="M398.1 1550.1 L424.3 1548.0 L478.0 1552.7 L450.5 1556.4 L411.2 1555.4Z" fill="#707070" filter="url(#b2)"/><path d="M455.7 1551.2 L478.0 1552.7 L458.3 1554.3Z" fill="#8c8c8c" filter="url(#b1)"/></g></g>
<g clip-path="url(#hc9)"><g filter="url(#pm)"><rect x="598.8" y="1498.6" width="412.0" height="108.4" fill="#0d0d0d"/><path d="M649.5 1534.4 L670.4 1523.9 L762.1 1518.7 L840.6 1513.5 L945.3 1513.5 L950.5 1534.4 L919.1 1547.5 L853.7 1552.7 L788.2 1550.1 L735.9 1544.9 L670.4 1544.9Z" fill="#2b2b2b" filter="url(#b3)"/><ellipse cx="673.1" cy="1534.4" rx="24.9" ry="9.4" fill="#4c4c4c" filter="url(#b2)"/><ellipse cx="671.8" cy="1533.9" rx="10.5" ry="4.2" fill="#707070" filter="url(#b2)"/><path d="M775.2 1518.7 L853.7 1516.1 L853.7 1544.9 L777.8 1547.5Z" fill="#4c4c4c" filter="url(#b2)"/><path d="M783.0 1529.2 L845.8 1526.6 L845.8 1534.4 L783.0 1535.7Z" fill="#707070" filter="url(#b2)"/><path d="M788.2 1539.6 L840.6 1539.6 L840.6 1544.9 L788.2 1544.9Z" fill="#666666" filter="url(#b2)"/><ellipse cx="834.1" cy="1529.2" rx="5.2" ry="3.7" fill="#8f8f8f" filter="url(#b1)"/><path d="M636.4 1571.1 L722.8 1576.3 L788.2 1573.7 L879.9 1565.8 L919.1 1560.6 L976.7 1563.2 L961.0 1593.3 L893.0 1597.2 L657.4 1597.2 L639.0 1581.5Z" fill="#333333" filter="url(#b2)"/><path d="M639.0 1573.7 L722.8 1577.6 L751.6 1581.5 L746.4 1597.2 L652.1 1597.2 L641.6 1584.2Z" fill="#4c4c4c" filter="url(#b2)"/><path d="M798.7 1571.6 L887.7 1568.4 L887.7 1584.2 L798.7 1584.2Z" fill="#4c4c4c" filter="url(#b2)"/><path d="M887.7 1571.1 L919.1 1561.1 L976.7 1563.7 L961.0 1594.6 L887.7 1597.2Z" fill="#4c4c4c" filter="url(#b2)"/><ellipse cx="694.0" cy="1589.9" rx="44.5" ry="9.4" fill="#6b6b6b" filter="url(#b2)"/><ellipse cx="696.6" cy="1593.3" rx="19.6" ry="5.2" fill="#808080" filter="url(#b2)"/><path d="M804.0 1573.2 L882.5 1571.6 L882.5 1581.5 L804.0 1581.5Z" fill="#666666" filter="url(#b2)"/><path d="M893.0 1573.7 L919.1 1563.7 L976.7 1565.8 L961.0 1592.0 L893.0 1594.6Z" fill="#6b6b6b" filter="url(#b2)"/><ellipse cx="932.2" cy="1577.6" rx="22.3" ry="11.0" fill="#8a8a8a" filter="url(#b2)"/><ellipse cx="932.2" cy="1577.6" rx="6.5" ry="3.1" fill="#9e9e9e" filter="url(#b1)"/><path d="M611.5 1555.4 L614.2 1554.0 L640.3 1577.6 L637.7 1580.2Z" fill="#525252" filter="url(#b1)"/></g></g>
<g clip-path="url(#hc10)"><g filter="url(#pm)"><rect x="1115.0" y="1498.6" width="411.0" height="108.4" fill="#0d0d0d"/><path d="M1127.9 1552.2 L1224.7 1539.6 L1308.5 1529.2 L1324.2 1527.6 L1342.5 1530.7 L1303.2 1533.4 L1224.7 1543.8 L1127.9 1553.5Z" fill="#3d3d3d" filter="url(#b1)"/><path d="M1413.2 1548.8 L1447.2 1544.9 L1486.5 1548.8 L1515.3 1552.7 L1486.5 1555.9 L1447.2 1555.9 L1415.8 1551.7Z" fill="#4c4c4c" filter="url(#b2)"/><path d="M1426.3 1549.1 L1460.3 1547.5 L1507.4 1552.2 L1473.4 1554.3 L1434.1 1553.0Z" fill="#737373" filter="url(#b2)"/></g></g>
<path d="M86.6 237.7 L102.3 206.3 L110.2 190.6 L119.3 167.7 L129.8 167.0 L136.4 169.6 L144.2 173.6 L152.1 179.5 L158.6 182.1 L165.2 178.8 L175.6 176.2 L182.2 174.9 L187.4 172.9 L191.3 169.6 L196.6 176.2 L201.8 181.4 L208.3 185.3 L213.6 195.8 L217.5 194.5 L224.1 202.4 L231.9 203.0 L241.1 203.0 L248.9 199.7 L258.1 199.1 L269.9 197.1 L276.4 188.0 L284.0 190.6 L285.2 191.9 L291.8 189.3 L297.0 188.6 L301.6 184.0 L306.8 193.8 L312.7 194.5 L319.3 191.2 L329.7 191.2 L335.0 194.5 L341.5 191.9 L348.1 191.2 L355.9 189.3 L363.8 189.9 L371.6 188.6 L379.5 188.6 L384.7 187.3 L392.6 187.3 L400.4 190.6 L405.7 194.5 L410.9 193.8 L417.4 197.1 L427.9 196.5 L433.1 199.1 L443.6 208.9 L450.2 218.1 L456.7 227.2 L463.2 233.8 L468.5 240.3 L477.6 241.0" fill="none" stroke="#0072c4" stroke-width="6.0" stroke-linejoin="round" stroke-linecap="butt"/>
<path d="M609.3 238.1 L613.9 236.1 L619.1 234.1 L624.3 230.9 L627.6 236.8 L632.2 234.8 L638.7 228.9 L645.3 232.8 L651.8 230.2 L655.7 226.3 L662.3 221.7 L667.5 225.0 L674.1 229.6 L679.3 228.9 L684.5 226.3 L691.1 226.9 L697.6 219.7 L705.5 216.5 L710.7 221.0 L714.6 223.0 L719.9 225.0 L726.4 226.3 L734.3 225.0 L742.1 225.0 L747.4 229.6 L753.9 226.3 L759.1 229.6 L765.7 234.8 L773.5 228.9 L778.8 217.1 L784.0 209.3 L789.2 205.3 L795.8 202.1 L806.0 197.5 L810.2 202.7 L815.5 205.3 L820.7 202.1 L825.9 206.0 L831.2 203.4 L837.7 202.7 L843.0 197.5 L848.2 200.1 L854.7 200.8 L862.6 200.1 L870.4 198.1 L878.3 204.7 L886.2 204.7 L891.4 199.5 L896.6 192.9 L901.9 198.1 L908.4 204.7 L913.6 206.0 L920.2 204.7 L925.4 202.1 L933.3 200.1 L941.1 203.4 L949.0 201.4 L954.2 203.4 L962.1 202.1 L969.9 203.4 L979.1 202.1 L984.3 202.1 L989.6 218.4 L994.8 231.5 L1000.0 241.3" fill="none" stroke="#0072c4" stroke-width="6.5" stroke-linejoin="round" stroke-linecap="butt"/>
<path d="M86.6 531.6 L89.2 497.6 L91.2 483.2 L97.1 475.3 L102.3 473.4 L107.6 464.9 L114.1 459.6 L120.6 461.6 L125.9 462.3 L131.1 459.0 L136.4 460.9 L140.3 465.5 L144.2 470.8 L152.1 472.7 L158.6 476.6 L163.8 476.0 L170.4 472.1 L179.5 469.5 L188.7 469.5 L199.2 471.4 L208.3 473.4 L217.5 478.0 L222.7 472.7 L229.3 470.8 L234.5 467.5 L241.1 461.6 L251.5 450.5 L262.0 448.5 L267.2 451.8 L273.8 453.1 L279.0 459.6 L284.0 460.9 L285.2 464.2 L293.1 466.2 L300.9 472.7 L307.5 468.1 L312.7 460.9 L319.3 464.2 L325.8 466.2 L335.0 464.9 L342.8 463.6 L349.4 467.5 L355.9 466.2 L361.2 462.9 L367.7 460.9 L372.9 467.5 L379.5 468.1 L384.7 466.8 L389.9 469.5 L395.2 471.4 L400.4 468.1 L405.7 463.6 L412.2 462.9 L417.4 459.6 L422.7 463.6 L427.9 470.1 L434.5 488.4 L439.7 489.7 L444.9 496.3 L450.2 499.6 L456.7 497.6 L460.6 531.6 L469.8 533.6" fill="none" stroke="#0072c4" stroke-width="6.0" stroke-linejoin="round" stroke-linecap="butt"/>
<path d="M611.2 533.6 L620.4 533.6 L623.0 517.2 L625.6 517.2 L628.3 531.6 L632.2 533.6 L649.2 533.6 L651.8 513.3 L655.7 508.1 L661.0 500.2 L666.2 509.4 L670.1 511.3 L674.1 509.4 L679.3 508.1 L684.5 498.9 L685.8 492.4 L691.1 495.0 L696.3 481.9 L700.2 483.2 L702.9 496.3 L705.5 501.5 L708.1 514.6 L710.7 509.4 L712.0 497.6 L715.9 508.1 L719.9 509.4 L723.8 485.8 L729.0 485.2 L731.7 496.3 L735.6 487.1 L739.5 485.8 L742.1 495.0 L746.1 488.4 L750.0 505.4 L755.2 504.1 L760.5 505.4 L765.7 534.2 L769.6 487.1 L773.5 481.9 L778.8 480.6 L784.0 481.9 L786.6 486.5 L791.9 483.2 L798.4 488.4 L806.0 472.7 L811.5 473.4 L816.8 485.8 L822.0 487.1 L827.3 475.3 L833.8 458.3 L839.0 462.3 L841.6 472.7 L845.6 487.1 L850.8 496.3 L857.4 497.6 L861.3 487.1 L866.5 488.4 L871.8 479.3 L877.0 464.9 L883.5 458.3 L891.4 454.4 L895.3 464.9 L897.9 479.3 L901.9 489.7 L905.8 488.4 L909.7 478.0 L912.3 466.2 L916.3 458.3 L921.5 455.7 L925.4 471.4 L930.7 479.3 L935.9 474.0 L941.1 467.5 L946.4 471.4 L950.3 464.9 L954.2 474.0 L959.5 470.1 L964.7 468.8 L969.9 459.6 L976.5 459.6 L983.0 455.7 L988.2 463.6 L993.5 474.0 L996.1 532.9" fill="none" stroke="#0072c4" stroke-width="6.5" stroke-linejoin="round" stroke-linecap="butt"/>
<path d="M89.2 1156.3 L97.1 1155.0 L110.2 1145.8 L123.3 1135.4 L136.4 1124.9 L149.4 1113.1 L162.5 1098.1 L169.1 1098.7 L175.6 1100.7 L183.5 1095.5 L193.9 1089.6 L214.9 1089.6 L225.4 1093.5 L237.1 1089.6 L256.8 1090.2 L269.9 1086.9 L279.0 1086.9 L284.0 1083.0 L290.5 1081.1 L302.3 1084.3 L320.6 1084.3 L332.4 1090.2 L342.8 1090.2 L353.3 1101.3 L363.8 1102.0 L374.2 1098.7 L384.7 1102.0 L395.2 1098.7 L405.7 1101.3 L417.4 1107.9 L427.9 1115.7 L437.1 1127.5 L444.9 1136.7 L452.8 1145.8 L460.6 1153.7 L468.5 1158.9 L480.0 1159.6" fill="none" stroke="#0072c4" stroke-width="6.0" stroke-linejoin="round" stroke-linecap="butt"/>
<path d="M609.9 1156.3 L615.2 1144.5 L621.7 1128.8 L626.9 1115.7 L632.2 1102.6 L637.4 1093.5 L642.6 1102.6 L646.6 1096.8 L651.8 1103.3 L658.4 1097.4 L663.6 1103.3 L667.5 1093.5 L671.4 1100.0 L676.7 1093.5 L680.6 1100.0 L684.5 1114.4 L688.5 1105.3 L692.4 1111.8 L697.6 1119.7 L704.2 1114.4 L714.6 1114.4 L721.2 1110.5 L727.7 1111.8 L734.3 1115.7 L744.7 1115.7 L748.7 1111.2 L753.9 1114.4 L761.8 1107.9 L768.3 1111.2 L774.8 1114.4 L781.4 1110.5 L785.3 1112.5 L791.9 1111.2 L798.4 1111.8 L806.0 1105.3 L810.2 1105.3 L820.7 1105.3 L825.9 1101.3 L831.2 1107.9 L839.0 1107.9 L843.0 1118.4 L848.2 1123.6 L854.7 1128.8 L857.4 1132.8 L865.2 1132.8 L870.4 1126.2 L878.3 1128.8 L883.5 1124.9 L888.8 1122.3 L894.0 1116.4 L901.9 1114.4 L911.0 1107.9 L920.2 1111.8 L928.0 1109.2 L933.3 1111.8 L939.8 1107.9 L946.4 1105.3 L954.2 1104.6 L958.1 1101.3 L963.4 1110.5 L975.2 1113.1 L980.4 1121.0 L983.0 1131.4 L988.2 1134.1 L993.5 1141.9 L998.7 1156.3" fill="none" stroke="#0072c4" stroke-width="6.0" stroke-linejoin="round" stroke-linecap="butt"/>
<path d="M1124.9 1159.6 L1161.6 1159.6 L1173.4 1151.1 L1185.1 1147.8 L1210.0 1147.8 L1221.8 1136.7 L1234.9 1131.4 L1246.7 1140.6 L1259.7 1144.5 L1270.2 1139.3 L1283.3 1131.4 L1296.4 1139.3 L1308.2 1144.5 L1321.0 1144.5 L1332.4 1135.4 L1344.2 1130.1 L1357.3 1138.6 L1370.4 1138.6 L1380.8 1131.4 L1393.9 1122.9 L1407.0 1122.9 L1417.5 1128.8 L1430.6 1122.3 L1442.3 1122.3 L1455.4 1128.8 L1467.2 1139.3 L1480.3 1148.5 L1490.8 1145.8 L1503.9 1156.3 L1515.6 1159.6" fill="none" stroke="#0072c4" stroke-width="6.0" stroke-linejoin="round" stroke-linecap="butt"/>
<path d="M89.2 1450.9 L99.7 1450.9 L109.5 1386.1 L120.6 1398.6 L129.8 1396.0 L140.3 1388.1 L152.1 1385.5 L162.5 1386.8 L173.0 1391.4 L183.5 1387.5 L193.9 1390.7 L204.4 1392.0 L216.2 1394.0 L226.7 1390.1 L237.1 1390.1 L247.6 1392.0 L258.1 1388.1 L271.2 1388.8 L284.0 1391.4 L290.5 1391.4 L300.9 1390.1 L311.4 1390.7 L321.9 1394.6 L332.4 1399.2 L342.8 1401.2 L353.3 1398.6 L363.8 1392.7 L374.2 1397.3 L384.7 1384.8 L395.2 1386.1 L405.7 1390.1 L416.1 1392.7 L426.6 1395.3 L437.1 1399.9 L447.5 1397.3 L452.8 1410.4 L458.0 1449.6 L465.9 1451.6" fill="none" stroke="#0072c4" stroke-width="6.0" stroke-linejoin="round" stroke-linecap="butt"/>
<path d="M612.5 1449.6 L615.2 1419.5 L617.8 1403.8 L621.1 1391.4 L629.6 1397.3 L634.1 1392.7 L638.7 1397.3 L644.0 1402.5 L649.2 1402.5 L655.1 1407.7 L661.0 1399.9 L671.4 1401.2 L679.3 1405.1 L687.2 1415.6 L697.6 1427.4 L705.5 1423.4 L714.6 1414.3 L723.8 1417.6 L731.7 1405.1 L739.5 1415.6 L744.7 1403.8 L751.3 1414.3 L756.5 1416.9 L761.8 1414.3 L767.0 1418.2 L773.5 1416.9 L778.8 1415.6 L786.6 1414.3 L791.9 1422.8 L797.1 1413.0 L806.0 1414.3 L808.9 1418.2 L818.1 1413.0 L824.6 1406.4 L829.9 1403.8 L835.1 1407.7 L841.6 1413.0 L848.2 1420.8 L850.8 1423.4 L856.0 1423.4 L860.0 1413.0 L865.2 1418.2 L869.1 1428.7 L873.1 1413.0 L878.3 1409.0 L884.8 1409.0 L888.8 1397.3 L894.0 1394.6 L899.2 1390.7 L907.1 1389.4 L913.6 1393.3 L920.2 1396.0 L925.4 1388.1 L932.0 1381.6 L937.2 1389.4 L942.4 1397.3 L947.7 1402.5 L952.9 1405.1 L959.5 1396.0 L964.7 1393.3 L969.9 1394.6 L975.2 1390.7 L980.4 1396.0 L986.9 1399.9 L990.9 1392.0 L993.5 1385.5 L996.1 1410.4 L1001.3 1449.6" fill="none" stroke="#0072c4" stroke-width="6.0" stroke-linejoin="round" stroke-linecap="butt"/>
<path d="M1124.9 1451.6 L1161.6 1451.6 L1173.4 1431.3 L1185.1 1419.5 L1210.0 1419.5 L1223.1 1409.0 L1234.9 1402.5 L1246.7 1399.9 L1258.4 1392.0 L1271.5 1401.2 L1283.3 1397.9 L1296.4 1403.2 L1308.2 1394.6 L1321.0 1394.6 L1332.4 1399.9 L1344.2 1388.8 L1357.3 1392.0 L1369.0 1392.0 L1382.1 1396.6 L1393.9 1393.3 L1407.0 1394.0 L1418.8 1396.6 L1430.6 1397.3 L1443.7 1390.1 L1455.4 1388.1 L1468.5 1388.8 L1480.3 1390.7 L1492.1 1390.1 L1497.3 1410.4 L1502.6 1436.5 L1506.5 1450.9" fill="none" stroke="#0072c4" stroke-width="6.0" stroke-linejoin="round" stroke-linecap="butt"/>
<path d="M86.6 240.3 L103.6 240.3 L110.2 233.8 L116.7 215.4 L123.3 203.7 L128.5 190.6 L136.4 176.2 L141.6 167.0 L146.8 167.0 L153.4 172.3 L158.6 169.6 L163.8 174.9 L169.1 175.5 L174.3 181.4 L180.9 178.8 L187.4 181.4 L195.3 182.1 L201.8 178.8 L207.0 181.4 L213.6 189.3 L218.8 188.0 L225.4 193.2 L231.9 197.1 L238.5 199.1 L246.3 196.5 L251.5 198.4 L256.8 199.1 L262.0 193.8 L268.6 193.2 L273.8 184.7 L279.0 182.7 L284.0 177.5 L290.5 172.9 L296.4 178.8 L301.6 172.9 L307.5 178.1 L312.7 178.8 L319.3 182.1 L323.8 188.0 L328.4 181.4 L335.0 187.3 L340.2 188.0 L346.8 189.9 L355.9 184.7 L362.5 191.2 L367.7 186.0 L379.5 185.3 L384.7 190.6 L389.9 191.2 L395.2 188.0 L401.7 190.6 L410.9 184.7 L417.4 178.8 L429.2 178.8 L434.5 184.0 L446.2 190.6 L454.1 206.3 L463.2 219.4 L468.5 225.9 L473.7 233.8 L479.0 239.0" fill="none" stroke="#f0560a" stroke-width="6.0" stroke-linejoin="round" stroke-linecap="butt"/>
<path d="M611.2 241.3 L616.5 228.9 L620.4 222.4 L625.6 219.1 L630.9 225.0 L636.1 231.5 L642.6 231.5 L649.2 227.6 L655.7 223.0 L662.3 226.3 L668.8 231.5 L674.1 226.3 L680.6 222.4 L687.2 219.7 L691.1 217.1 L697.6 217.8 L702.9 223.7 L708.1 225.0 L713.3 227.6 L719.9 232.2 L726.4 228.9 L734.3 227.6 L742.1 227.6 L746.1 219.7 L750.0 225.0 L753.9 223.7 L760.5 227.6 L764.4 222.4 L770.9 211.9 L776.2 205.3 L784.0 200.1 L789.2 197.5 L795.8 195.5 L806.0 198.1 L812.9 196.8 L820.1 193.6 L827.3 200.8 L832.5 198.8 L839.0 193.6 L846.9 193.6 L854.7 196.2 L862.6 196.2 L870.4 196.2 L878.3 199.5 L883.5 198.1 L888.8 188.3 L894.0 184.4 L899.2 188.3 L904.5 190.9 L909.7 194.9 L917.6 196.2 L925.4 198.1 L933.3 201.4 L942.4 196.2 L947.7 198.8 L954.2 195.5 L959.5 200.1 L966.0 196.2 L972.5 199.5 L977.8 193.6 L983.0 192.9 L988.2 192.9 L992.2 205.3 L996.1 219.7 L1000.0 230.2 L1003.3 238.1" fill="none" stroke="#f0560a" stroke-width="6.5" stroke-linejoin="round" stroke-linecap="butt"/>
<path d="M86.6 533.6 L108.9 533.6 L111.5 505.4 L114.1 480.6 L119.3 483.2 L125.9 476.0 L132.4 472.1 L137.7 472.1 L144.2 466.2 L149.4 467.5 L157.3 468.8 L162.5 472.7 L169.1 476.0 L178.2 477.3 L186.1 474.7 L191.3 477.3 L196.6 479.9 L204.4 475.3 L212.3 471.4 L221.4 466.2 L229.3 464.2 L237.1 459.0 L245.0 454.4 L254.2 451.1 L264.6 455.7 L271.2 457.0 L275.1 461.6 L280.3 466.2 L284.0 464.2 L290.5 461.6 L298.3 464.2 L307.5 462.3 L312.7 469.5 L319.3 472.7 L324.5 470.8 L329.7 474.0 L336.3 472.1 L341.5 467.5 L345.4 461.6 L350.7 464.9 L357.2 467.5 L363.8 463.6 L371.6 464.9 L379.5 464.2 L384.7 461.6 L389.9 459.6 L395.2 464.9 L400.4 469.5 L405.7 474.0 L410.9 476.0 L416.1 472.1 L422.7 470.1 L429.2 472.7 L435.8 479.3 L442.3 487.1 L448.8 489.1 L455.4 493.0 L460.6 483.2 L467.2 480.6 L471.1 502.8 L475.0 533.6 L477.6 533.6" fill="none" stroke="#f0560a" stroke-width="6.0" stroke-linejoin="round" stroke-linecap="butt"/>
<path d="M611.2 533.6 L616.5 513.3 L620.4 474.0 L623.0 471.4 L625.6 481.9 L628.9 478.0 L632.2 495.0 L636.1 530.3 L638.7 533.6 L645.3 533.6 L649.2 513.3 L653.1 498.9 L658.4 497.6 L661.0 514.6 L666.2 515.9 L670.1 523.8 L675.4 515.9 L679.3 498.9 L683.2 483.2 L685.8 478.0 L689.8 491.0 L692.4 487.1 L696.3 498.9 L700.2 489.7 L702.9 497.6 L705.5 484.5 L710.7 481.9 L715.9 501.5 L719.9 518.5 L722.5 508.1 L729.0 509.4 L734.3 510.7 L739.5 514.6 L742.1 492.4 L744.7 489.7 L747.4 497.6 L751.3 501.5 L756.5 498.9 L760.5 492.4 L764.4 471.4 L768.3 454.4 L772.2 450.5 L776.2 463.6 L781.4 467.5 L786.6 481.9 L790.6 472.7 L795.8 474.0 L801.0 479.3 L806.0 478.0 L811.5 479.3 L818.1 475.3 L822.0 489.7 L828.6 475.3 L833.8 470.1 L839.0 464.9 L844.3 468.1 L850.8 481.9 L857.4 471.4 L862.6 471.4 L867.8 474.0 L874.4 459.0 L878.3 458.3 L882.2 464.9 L886.2 475.3 L891.4 485.8 L896.6 481.9 L901.9 472.7 L908.4 467.5 L914.9 470.1 L920.2 460.9 L928.0 463.6 L933.3 468.8 L938.5 459.6 L946.4 454.4 L951.6 460.9 L959.5 459.6 L964.7 462.3 L969.9 457.0 L975.2 462.3 L979.1 470.1 L985.6 475.3 L990.9 478.0 L996.1 487.1 L998.7 492.4 L1001.3 531.6" fill="none" stroke="#f0560a" stroke-width="6.5" stroke-linejoin="round" stroke-linecap="butt"/>
<path d="M89.2 1159.6 L110.2 1159.6 L123.3 1149.8 L133.7 1140.6 L142.9 1128.8 L153.4 1117.0 L162.5 1107.9 L173.0 1096.1 L183.5 1096.1 L193.9 1092.8 L204.4 1096.1 L216.2 1100.0 L235.8 1100.0 L247.6 1096.8 L256.8 1100.0 L269.9 1097.4 L280.3 1097.4 L284.0 1091.5 L289.2 1086.9 L299.6 1090.2 L311.4 1094.1 L320.6 1093.5 L332.4 1099.4 L342.8 1099.4 L353.3 1107.9 L363.8 1108.5 L374.2 1108.5 L384.7 1108.5 L395.2 1111.8 L405.7 1117.0 L416.1 1119.7 L426.6 1128.8 L437.1 1138.0 L448.8 1147.2 L459.3 1149.8 L469.8 1153.7 L480.0 1158.3" fill="none" stroke="#f0560a" stroke-width="6.0" stroke-linejoin="round" stroke-linecap="butt"/>
<path d="M608.6 1159.6 L623.0 1159.6 L629.6 1149.8 L636.1 1144.5 L642.6 1135.4 L647.9 1128.8 L653.1 1126.2 L661.0 1126.2 L667.5 1131.4 L672.8 1135.4 L684.5 1135.4 L689.8 1128.8 L697.6 1127.5 L705.5 1123.6 L710.7 1123.6 L715.9 1126.2 L726.4 1126.2 L731.7 1132.8 L736.9 1130.1 L742.1 1132.8 L747.4 1128.8 L753.9 1135.4 L757.8 1132.8 L763.1 1136.0 L768.3 1134.1 L774.8 1132.8 L778.8 1123.6 L786.6 1118.4 L791.9 1107.9 L797.1 1105.3 L802.3 1106.6 L806.0 1105.3 L810.2 1111.8 L815.5 1113.1 L820.7 1126.2 L825.9 1123.6 L831.2 1131.4 L840.3 1135.4 L846.9 1131.4 L854.7 1127.5 L862.6 1127.5 L871.8 1131.4 L878.3 1138.0 L882.2 1136.7 L886.2 1131.4 L890.1 1134.1 L899.2 1127.5 L907.1 1123.6 L912.3 1126.2 L918.9 1122.3 L924.1 1129.5 L933.3 1129.5 L938.5 1127.5 L943.7 1121.0 L950.3 1118.4 L954.2 1114.4 L962.1 1114.4 L969.9 1114.4 L975.2 1117.0 L980.4 1122.3 L985.6 1132.8 L990.9 1140.6 L996.1 1151.1 L1000.0 1157.0" fill="none" stroke="#f0560a" stroke-width="6.0" stroke-linejoin="round" stroke-linecap="butt"/>
<path d="M1124.9 1157.6 L1135.4 1149.8 L1147.2 1146.5 L1173.4 1146.5 L1185.1 1143.2 L1198.2 1134.1 L1211.3 1140.6 L1224.4 1143.9 L1234.9 1143.9 L1246.7 1136.7 L1258.4 1131.4 L1271.5 1141.3 L1283.3 1144.5 L1296.4 1135.4 L1308.2 1128.2 L1321.0 1131.4 L1332.4 1138.0 L1344.2 1128.8 L1357.3 1125.6 L1370.4 1131.4 L1380.8 1134.7 L1393.9 1131.4 L1407.0 1128.8 L1418.8 1132.1 L1430.6 1128.2 L1443.7 1132.1 L1455.4 1132.1 L1467.2 1139.3 L1480.3 1145.8 L1492.1 1151.1 L1503.9 1156.3 L1515.6 1156.3" fill="none" stroke="#f0560a" stroke-width="6.0" stroke-linejoin="round" stroke-linecap="butt"/>
<path d="M89.2 1451.6 L110.2 1451.6 L120.6 1426.1 L129.8 1382.2 L140.3 1382.9 L152.1 1384.2 L162.5 1380.9 L173.0 1382.9 L183.5 1382.2 L193.9 1385.5 L204.4 1381.6 L216.2 1378.3 L226.7 1377.0 L237.1 1377.0 L247.6 1381.6 L258.1 1378.3 L271.2 1382.2 L280.3 1382.9 L284.0 1386.1 L290.5 1386.8 L300.9 1384.8 L311.4 1380.9 L321.9 1378.9 L332.4 1377.0 L342.8 1378.3 L353.3 1372.4 L363.8 1371.1 L374.2 1371.7 L384.7 1371.1 L395.2 1376.3 L405.7 1377.0 L416.1 1384.2 L427.9 1390.1 L437.1 1401.2 L447.5 1408.4 L452.8 1420.8 L460.6 1436.5 L469.8 1450.3 L480.0 1450.9" fill="none" stroke="#f0560a" stroke-width="6.0" stroke-linejoin="round" stroke-linecap="butt"/>
<path d="M608.6 1451.6 L625.6 1451.6 L629.6 1433.9 L634.8 1422.1 L640.0 1413.0 L642.6 1405.1 L650.5 1399.9 L655.7 1394.6 L663.6 1397.3 L670.1 1413.0 L676.7 1428.7 L680.6 1405.1 L685.8 1413.0 L692.4 1410.4 L700.2 1403.8 L705.5 1390.1 L714.6 1392.7 L719.9 1397.3 L723.8 1413.0 L727.7 1407.7 L731.7 1419.5 L736.9 1410.4 L743.4 1409.7 L750.0 1418.2 L757.8 1428.7 L765.7 1424.8 L772.2 1418.2 L776.2 1411.7 L781.4 1414.3 L789.2 1406.4 L794.5 1413.0 L799.7 1403.8 L806.0 1406.4 L810.2 1411.7 L816.8 1406.4 L822.0 1415.6 L825.9 1413.0 L829.9 1422.1 L833.8 1413.0 L839.0 1420.8 L843.0 1424.8 L846.9 1410.4 L850.8 1399.9 L854.7 1405.1 L862.6 1399.9 L867.8 1409.0 L873.1 1413.0 L878.3 1418.2 L880.9 1424.8 L886.2 1415.6 L894.0 1409.0 L900.5 1411.7 L905.8 1415.6 L909.7 1397.3 L914.9 1402.5 L920.2 1409.0 L924.1 1405.1 L928.0 1413.0 L932.0 1416.9 L937.2 1409.0 L941.1 1397.3 L945.1 1388.1 L951.6 1380.3 L956.8 1382.9 L963.4 1378.9 L969.9 1380.3 L975.2 1376.3 L980.4 1381.6 L986.9 1385.5 L990.9 1392.0 L993.5 1410.4 L996.1 1449.6 L998.7 1452.2" fill="none" stroke="#f0560a" stroke-width="6.0" stroke-linejoin="round" stroke-linecap="butt"/>
<path d="M1124.9 1449.6 L1136.7 1419.5 L1148.5 1384.2 L1173.4 1384.2 L1185.1 1397.9 L1198.2 1388.8 L1210.0 1395.3 L1223.1 1383.5 L1234.9 1383.5 L1246.7 1390.7 L1258.4 1386.8 L1271.5 1394.6 L1283.3 1386.1 L1296.4 1389.4 L1308.2 1384.8 L1321.0 1382.9 L1332.4 1389.4 L1344.2 1394.0 L1357.3 1392.7 L1369.0 1407.7 L1382.1 1418.2 L1393.9 1422.1 L1407.0 1407.7 L1418.8 1415.6 L1430.6 1406.4 L1443.7 1398.6 L1455.4 1397.9 L1467.2 1404.5 L1480.3 1396.6 L1486.8 1415.6 L1492.1 1436.5 L1503.9 1450.9 L1515.6 1450.9" fill="none" stroke="#f0560a" stroke-width="6.0" stroke-linejoin="round" stroke-linecap="butt"/>
<path d="M86.6 825.3 L108.2 825.3 L110.8 811.5 L113.5 798.4 L118.0 788.0 L123.3 782.1 L130.5 774.9 L136.4 776.2 L142.9 778.8 L148.1 778.8 L154.7 781.4 L159.9 784.0 L169.1 788.0 L178.2 787.3 L186.1 785.4 L191.3 786.7 L196.6 789.9 L201.8 787.3 L208.3 782.7 L214.9 784.7 L218.8 784.0 L225.4 776.2 L230.6 776.2 L235.8 771.0 L241.1 763.1 L246.3 757.9 L252.8 750.0 L258.1 750.0 L263.3 752.0 L268.6 757.9 L273.8 760.5 L279.0 772.3 L284.0 770.3 L285.2 770.3 L290.5 769.0 L295.7 774.9 L301.6 778.2 L307.5 771.0 L312.7 773.6 L319.3 778.8 L323.2 778.2 L329.7 781.4 L337.6 776.8 L341.5 774.9 L345.4 769.6 L350.7 774.9 L355.9 775.5 L362.5 772.3 L367.7 769.6 L374.2 775.5 L379.5 775.5 L384.7 772.9 L391.3 772.9 L396.5 777.5 L401.7 782.1 L407.0 780.8 L412.2 782.1 L417.4 781.4 L422.7 784.0 L427.9 789.3 L434.5 797.1 L442.3 802.4 L446.2 806.3 L450.2 815.5 L456.7 813.5 L461.9 824.6 L477.6 824.6" fill="none" stroke="#000" stroke-width="6.2" stroke-linejoin="round" stroke-linecap="butt"/>
<path d="M610.6 825.3 L619.1 825.3 L621.7 815.5 L625.0 816.8 L627.6 825.3 L647.9 825.3 L651.8 816.8 L655.7 813.5 L659.7 814.8 L663.6 819.4 L668.8 825.3 L674.1 820.7 L678.0 820.0 L681.9 807.6 L685.8 798.4 L688.5 805.6 L692.4 807.6 L696.3 814.2 L698.9 807.6 L702.9 811.5 L705.5 804.3 L708.1 818.1 L712.0 814.2 L717.3 819.4 L721.2 822.0 L723.8 820.7 L727.7 824.6 L730.3 814.8 L736.9 814.2 L743.4 816.8 L747.4 812.8 L751.3 819.4 L756.5 816.1 L761.8 814.8 L764.4 812.8 L766.3 825.9 L769.6 786.7 L772.2 780.1 L776.2 788.0 L780.1 789.3 L785.3 790.6 L787.9 797.1 L791.9 791.9 L795.8 791.9 L798.4 802.4 L802.3 795.8 L806.0 786.7 L806.3 788.0 L811.5 788.0 L815.5 794.5 L819.4 798.4 L822.0 803.0 L824.6 801.1 L828.6 790.6 L831.2 788.0 L835.1 772.3 L837.7 769.6 L841.6 778.8 L845.6 782.7 L846.9 795.8 L850.8 803.7 L856.0 803.7 L858.7 794.5 L862.6 790.6 L866.5 797.1 L869.1 788.0 L871.8 786.7 L873.1 772.3 L877.0 765.7 L880.9 767.0 L883.5 774.9 L887.5 776.2 L890.1 784.0 L894.0 782.7 L896.6 791.9 L901.9 797.1 L907.1 793.2 L908.4 785.4 L912.3 781.4 L913.6 774.9 L917.6 771.0 L920.2 764.4 L922.8 769.6 L925.4 782.7 L929.3 782.7 L933.3 788.0 L937.2 777.5 L939.8 767.0 L943.7 776.2 L946.4 771.0 L950.3 767.0 L954.2 782.7 L956.8 772.3 L960.8 772.3 L963.4 776.2 L967.3 757.9 L969.9 757.9 L972.5 764.4 L976.5 767.0 L979.1 774.9 L981.7 771.0 L986.9 776.2 L990.9 784.0 L993.5 789.3 L994.8 806.3 L996.1 818.1 L998.7 824.6 L1001.3 824.6" fill="none" stroke="#000" stroke-width="6.7" stroke-linejoin="round" stroke-linecap="butt"/>
<path d="M89.2 1742.9 L110.2 1742.9 L120.6 1727.2 L129.8 1699.7 L140.3 1695.2 L152.1 1692.5 L162.5 1692.5 L173.0 1697.8 L183.5 1694.5 L193.9 1699.1 L204.4 1697.8 L214.9 1696.5 L225.4 1692.5 L237.1 1691.9 L247.6 1697.1 L258.1 1691.9 L268.6 1695.2 L279.0 1696.5 L284.0 1699.7 L290.5 1700.4 L300.9 1698.4 L311.4 1695.8 L321.9 1698.4 L332.4 1701.0 L342.8 1702.4 L353.3 1697.1 L363.8 1692.5 L374.2 1697.1 L384.7 1686.0 L395.2 1689.9 L405.7 1692.5 L416.1 1698.4 L426.6 1703.7 L438.4 1717.4 L448.8 1717.4 L459.3 1742.9 L480.0 1742.9" fill="none" stroke="#000" stroke-width="6.2" stroke-linejoin="round" stroke-linecap="butt"/>
<path d="M608.6 1742.9 L625.6 1742.9 L628.3 1733.8 L633.5 1725.9 L638.7 1725.3 L644.0 1720.7 L650.5 1715.4 L655.7 1715.4 L659.7 1717.4 L663.6 1712.8 L667.5 1723.3 L672.8 1729.8 L676.7 1735.1 L680.6 1727.2 L684.5 1735.1 L689.8 1733.8 L697.6 1735.7 L702.9 1731.2 L706.8 1724.6 L710.7 1722.0 L714.6 1724.0 L718.6 1722.0 L723.8 1729.8 L730.3 1730.5 L736.9 1733.8 L740.8 1735.7 L744.7 1729.8 L751.3 1731.8 L757.8 1734.4 L761.8 1733.1 L765.7 1736.4 L770.9 1732.5 L776.2 1729.2 L781.4 1727.9 L786.6 1724.6 L791.9 1729.8 L799.7 1727.9 L806.0 1729.8 L810.2 1728.5 L814.2 1727.9 L817.4 1724.6 L821.4 1727.9 L825.3 1722.0 L829.9 1728.5 L833.8 1724.6 L839.0 1729.2 L843.0 1733.8 L846.9 1731.2 L850.8 1734.4 L854.7 1731.2 L860.0 1723.3 L863.9 1723.3 L867.8 1731.8 L874.4 1729.8 L880.9 1734.4 L887.5 1720.7 L894.0 1716.1 L899.2 1714.8 L903.2 1718.7 L908.4 1717.4 L911.0 1709.6 L914.9 1711.5 L920.2 1718.1 L924.1 1710.9 L928.0 1711.5 L933.3 1716.8 L937.2 1715.4 L941.1 1708.9 L949.0 1705.6 L954.2 1707.6 L958.1 1705.0 L962.1 1697.1 L967.3 1695.2 L971.2 1698.4 L975.2 1691.2 L979.1 1699.7 L985.6 1705.0 L988.2 1707.6 L992.2 1707.6 L994.8 1728.5 L997.4 1742.9 L1000.0 1742.9" fill="none" stroke="#000" stroke-width="6.2" stroke-linejoin="round" stroke-linecap="butt"/>
<path d="M1124.9 1742.9 L1160.3 1742.9 L1173.4 1729.2 L1185.1 1725.3 L1198.2 1720.7 L1210.0 1723.3 L1221.8 1711.5 L1234.9 1705.6 L1246.7 1708.2 L1258.4 1699.1 L1271.5 1710.9 L1283.3 1705.0 L1296.4 1710.2 L1308.2 1701.7 L1321.0 1700.4 L1332.4 1708.2 L1344.2 1703.7 L1357.3 1706.3 L1369.0 1716.8 L1382.1 1727.9 L1393.9 1724.0 L1407.0 1714.8 L1418.8 1722.0 L1430.6 1715.4 L1443.7 1707.6 L1455.4 1706.9 L1467.2 1712.8 L1480.3 1707.6 L1490.8 1732.5 L1505.2 1742.9 L1515.6 1742.9" fill="none" stroke="#000" stroke-width="6.2" stroke-linejoin="round" stroke-linecap="butt"/>
<g filter="url(#pm)"><rect x="1067.5" y="242" width="27" height="196.5" fill="url(#gg)"/></g>
<rect x="1067.5" y="242" width="27" height="196.5" fill="none" stroke="#3a3a3a" stroke-width="1"/>
<text x="1106.5" y="255.3" font-size="24" text-anchor="start" fill="#444" stroke="#444" stroke-width="0.3">1</text>
<text x="1106.5" y="354.0" font-size="24" text-anchor="start" fill="#444" stroke="#444" stroke-width="0.3" textLength="34.5" lengthAdjust="spacingAndGlyphs">0. 5</text>
<text x="1106.5" y="452.6" font-size="24" text-anchor="start" fill="#444" stroke="#444" stroke-width="0.3">0</text>
<text x="1168.5" y="346.0" font-size="18.7" text-anchor="middle" fill="#111" stroke="#111" stroke-width="0.3" textLength="143.5" lengthAdjust="spacingAndGlyphs" transform="rotate(90 1168.5 346.0)">Imitation strength</text>
<path d="M1052.5 533.5H1314" stroke="#444" stroke-width="3"/>
<path d="M1312 518.4L1338.5 533.5L1312 548.6Z" fill="#444"/>
<text x="1122.0" y="585.4" font-size="40.5" text-anchor="start" fill="#000" stroke="#000" stroke-width="0.6" textLength="142.0" lengthAdjust="spacingAndGlyphs">Time [s]</text>
<path d="M1052.8 766.9H1164.6" stroke="#24187f" stroke-width="3.3"/>
<path d="M1052.8 820.8H1164.6" stroke="#dc0306" stroke-width="3.3"/>
<text x="1180.0" y="777.3" font-size="34" text-anchor="start" fill="#000" stroke="#000" stroke-width="0.6" textLength="344.0" lengthAdjust="spacingAndGlyphs">Person with Dementia</text>
<text x="1183.0" y="830.6" font-size="34" text-anchor="start" fill="#000" stroke="#000" stroke-width="0.6" textLength="237.0" lengthAdjust="spacingAndGlyphs">Music therapist</text></svg></body></html>
